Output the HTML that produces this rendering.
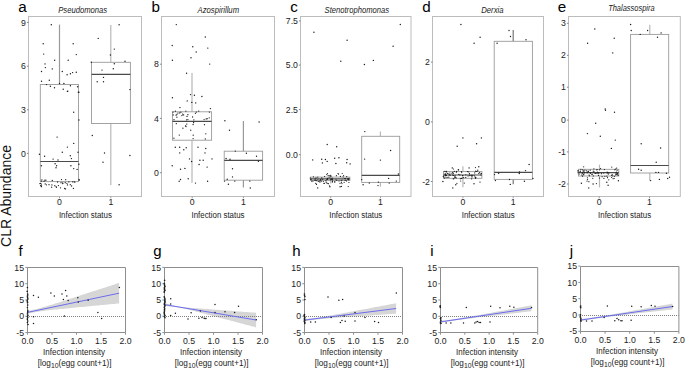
<!DOCTYPE html>
<html><head><meta charset="utf-8"><style>
html,body{margin:0;padding:0;background:#fff;}
body{width:685px;height:368px;overflow:hidden;}
svg{display:block;font-family:"Liberation Sans", sans-serif;}
text{fill:#222;}
</style></head><body>
<svg width="685" height="368" viewBox="0 0 685 368">
<rect width="685" height="368" fill="#fff"/>
<rect x="28.5" y="16.5" width="113.0" height="180.0" fill="none" stroke="#bcbcbc" stroke-width="1"/>
<text x="18.3" y="11.6" font-size="15.2" text-anchor="start"  style="fill:#000">a</text>
<text x="82.7" y="12.5" font-size="8.6" text-anchor="middle"  font-style="italic" textLength="49" lengthAdjust="spacingAndGlyphs">Pseudomonas</text>
<line x1="26.9" y1="22.4" x2="28.5" y2="22.4" stroke="#777" stroke-width="0.9"/>
<text x="25.9" y="25.5" font-size="8.7" text-anchor="end"  >9</text>
<line x1="26.9" y1="66.2" x2="28.5" y2="66.2" stroke="#777" stroke-width="0.9"/>
<text x="25.9" y="69.3" font-size="8.7" text-anchor="end"  >6</text>
<line x1="26.9" y1="109.8" x2="28.5" y2="109.8" stroke="#777" stroke-width="0.9"/>
<text x="25.9" y="112.9" font-size="8.7" text-anchor="end"  >3</text>
<line x1="26.9" y1="153.4" x2="28.5" y2="153.4" stroke="#777" stroke-width="0.9"/>
<text x="25.9" y="156.5" font-size="8.7" text-anchor="end"  >0</text>
<line x1="59.5" y1="196.5" x2="59.5" y2="198.3" stroke="#888" stroke-width="0.8"/>
<text x="59.5" y="205.0" font-size="8.7" text-anchor="middle"  >0</text>
<line x1="110.8" y1="196.5" x2="110.8" y2="198.3" stroke="#888" stroke-width="0.8"/>
<text x="110.8" y="205.0" font-size="8.7" text-anchor="middle"  >1</text>
<text x="85.4" y="218.0" font-size="8.4" text-anchor="middle"  textLength="53" lengthAdjust="spacingAndGlyphs">Infection status</text>
<rect x="161.5" y="16.5" width="113.0" height="180.0" fill="none" stroke="#bcbcbc" stroke-width="1"/>
<text x="151.6" y="11.6" font-size="15.2" text-anchor="start"  style="fill:#000">b</text>
<text x="218.3" y="12.6" font-size="8.6" text-anchor="middle"  font-style="italic" textLength="41.5" lengthAdjust="spacingAndGlyphs">Azospirillum</text>
<line x1="159.9" y1="64.2" x2="161.5" y2="64.2" stroke="#777" stroke-width="0.9"/>
<text x="158.9" y="67.3" font-size="8.7" text-anchor="end"  >8</text>
<line x1="159.9" y1="118.4" x2="161.5" y2="118.4" stroke="#777" stroke-width="0.9"/>
<text x="158.9" y="121.5" font-size="8.7" text-anchor="end"  >4</text>
<line x1="159.9" y1="172.7" x2="161.5" y2="172.7" stroke="#777" stroke-width="0.9"/>
<text x="158.9" y="175.8" font-size="8.7" text-anchor="end"  >0</text>
<line x1="192.2" y1="196.5" x2="192.2" y2="198.3" stroke="#888" stroke-width="0.8"/>
<text x="192.2" y="205.0" font-size="8.7" text-anchor="middle"  >0</text>
<line x1="243.4" y1="196.5" x2="243.4" y2="198.3" stroke="#888" stroke-width="0.8"/>
<text x="243.4" y="205.0" font-size="8.7" text-anchor="middle"  >1</text>
<text x="218.0" y="218.0" font-size="8.4" text-anchor="middle"  textLength="53" lengthAdjust="spacingAndGlyphs">Infection status</text>
<rect x="300.5" y="16.5" width="110.5" height="180.0" fill="none" stroke="#bcbcbc" stroke-width="1"/>
<text x="290.2" y="11.6" font-size="15.2" text-anchor="start"  style="fill:#000">c</text>
<text x="356.8" y="12.5" font-size="8.6" text-anchor="middle"  font-style="italic" textLength="64.5" lengthAdjust="spacingAndGlyphs">Stenotrophomonas</text>
<line x1="298.9" y1="20.9" x2="300.5" y2="20.9" stroke="#777" stroke-width="0.9"/>
<text x="297.9" y="24.0" font-size="8.7" text-anchor="end"  >7.5</text>
<line x1="298.9" y1="65.1" x2="300.5" y2="65.1" stroke="#777" stroke-width="0.9"/>
<text x="297.9" y="68.2" font-size="8.7" text-anchor="end"  >5.0</text>
<line x1="298.9" y1="109.6" x2="300.5" y2="109.6" stroke="#777" stroke-width="0.9"/>
<text x="297.9" y="112.7" font-size="8.7" text-anchor="end"  >2.5</text>
<line x1="298.9" y1="154.7" x2="300.5" y2="154.7" stroke="#777" stroke-width="0.9"/>
<text x="297.9" y="157.8" font-size="8.7" text-anchor="end"  >0.0</text>
<line x1="330.7" y1="196.5" x2="330.7" y2="198.3" stroke="#888" stroke-width="0.8"/>
<text x="330.7" y="205.0" font-size="8.7" text-anchor="middle"  >0</text>
<line x1="380.5" y1="196.5" x2="380.5" y2="198.3" stroke="#888" stroke-width="0.8"/>
<text x="380.5" y="205.0" font-size="8.7" text-anchor="middle"  >1</text>
<text x="355.8" y="218.0" font-size="8.4" text-anchor="middle"  textLength="53" lengthAdjust="spacingAndGlyphs">Infection status</text>
<rect x="432.5" y="16.5" width="111.0" height="180.0" fill="none" stroke="#bcbcbc" stroke-width="1"/>
<text x="422.3" y="11.6" font-size="15.2" text-anchor="start"  style="fill:#000">d</text>
<text x="492.4" y="12.9" font-size="8.6" text-anchor="middle"  font-style="italic" textLength="22.5" lengthAdjust="spacingAndGlyphs">Derxia</text>
<line x1="430.9" y1="62.1" x2="432.5" y2="62.1" stroke="#777" stroke-width="0.9"/>
<text x="429.9" y="65.2" font-size="8.7" text-anchor="end"  >2</text>
<line x1="430.9" y1="121.9" x2="432.5" y2="121.9" stroke="#777" stroke-width="0.9"/>
<text x="429.9" y="125.0" font-size="8.7" text-anchor="end"  >0</text>
<line x1="430.9" y1="181.5" x2="432.5" y2="181.5" stroke="#777" stroke-width="0.9"/>
<text x="429.9" y="184.6" font-size="8.7" text-anchor="end"  >-2</text>
<line x1="462.9" y1="196.5" x2="462.9" y2="198.3" stroke="#888" stroke-width="0.8"/>
<text x="462.9" y="205.0" font-size="8.7" text-anchor="middle"  >0</text>
<line x1="513.2" y1="196.5" x2="513.2" y2="198.3" stroke="#888" stroke-width="0.8"/>
<text x="513.2" y="205.0" font-size="8.7" text-anchor="middle"  >1</text>
<text x="488.2" y="218.0" font-size="8.4" text-anchor="middle"  textLength="53" lengthAdjust="spacingAndGlyphs">Infection status</text>
<rect x="568.5" y="16.5" width="111.8" height="180.0" fill="none" stroke="#bcbcbc" stroke-width="1"/>
<text x="557.7" y="11.6" font-size="15.2" text-anchor="start"  style="fill:#000">e</text>
<text x="631.4" y="10.5" font-size="8.6" text-anchor="middle"  font-style="italic" textLength="46.5" lengthAdjust="spacingAndGlyphs">Thalassospira</text>
<line x1="566.9" y1="23.3" x2="568.5" y2="23.3" stroke="#777" stroke-width="0.9"/>
<text x="565.9" y="26.4" font-size="8.7" text-anchor="end"  >3</text>
<line x1="566.9" y1="55.3" x2="568.5" y2="55.3" stroke="#777" stroke-width="0.9"/>
<text x="565.9" y="58.4" font-size="8.7" text-anchor="end"  >2</text>
<line x1="566.9" y1="87.2" x2="568.5" y2="87.2" stroke="#777" stroke-width="0.9"/>
<text x="565.9" y="90.3" font-size="8.7" text-anchor="end"  >1</text>
<line x1="566.9" y1="120.1" x2="568.5" y2="120.1" stroke="#777" stroke-width="0.9"/>
<text x="565.9" y="123.2" font-size="8.7" text-anchor="end"  >0</text>
<line x1="566.9" y1="151.9" x2="568.5" y2="151.9" stroke="#777" stroke-width="0.9"/>
<text x="565.9" y="155.0" font-size="8.7" text-anchor="end"  >-1</text>
<line x1="566.9" y1="184" x2="568.5" y2="184" stroke="#777" stroke-width="0.9"/>
<text x="565.9" y="187.1" font-size="8.7" text-anchor="end"  >-2</text>
<line x1="599.2" y1="196.5" x2="599.2" y2="198.3" stroke="#888" stroke-width="0.8"/>
<text x="599.2" y="205.0" font-size="8.7" text-anchor="middle"  >0</text>
<line x1="649.5" y1="196.5" x2="649.5" y2="198.3" stroke="#888" stroke-width="0.8"/>
<text x="649.5" y="205.0" font-size="8.7" text-anchor="middle"  >1</text>
<text x="624.6" y="218.0" font-size="8.4" text-anchor="middle"  textLength="53" lengthAdjust="spacingAndGlyphs">Infection status</text>
<line x1="59.5" y1="24.6" x2="59.5" y2="84.5" stroke="#999" stroke-width="1.2"/>
<rect x="40.3" y="84.5" width="38.2" height="97.1" fill="none" stroke="#9a9a9a" stroke-width="0.9"/>
<line x1="40.3" y1="161.5" x2="78.5" y2="161.5" stroke="#4a4a4a" stroke-width="1.2"/>
<line x1="110.8" y1="25.0" x2="110.8" y2="62.3" stroke="#b8b8b8" stroke-width="1.2"/>
<line x1="110.8" y1="123.5" x2="110.8" y2="185.0" stroke="#b8b8b8" stroke-width="1.2"/>
<rect x="91.5" y="62.3" width="38.9" height="61.2" fill="none" stroke="#9a9a9a" stroke-width="0.9"/>
<line x1="91.5" y1="74.3" x2="130.4" y2="74.3" stroke="#4a4a4a" stroke-width="1.2"/>
<circle cx="51.3" cy="24.8" r="0.7" fill="#1a1a1a"/>
<circle cx="43.2" cy="43.7" r="0.7" fill="#1a1a1a"/>
<circle cx="73.2" cy="43.7" r="0.7" fill="#1a1a1a"/>
<circle cx="43.7" cy="54.1" r="0.7" fill="#1a1a1a"/>
<circle cx="76.3" cy="54.6" r="0.7" fill="#1a1a1a"/>
<circle cx="45.0" cy="63.9" r="0.7" fill="#1a1a1a"/>
<circle cx="45.4" cy="67.6" r="0.7" fill="#1a1a1a"/>
<circle cx="54.7" cy="60.2" r="0.7" fill="#1a1a1a"/>
<circle cx="68.2" cy="60.2" r="0.7" fill="#1a1a1a"/>
<circle cx="52.3" cy="68.9" r="0.7" fill="#1a1a1a"/>
<circle cx="41.5" cy="71.5" r="0.7" fill="#1a1a1a"/>
<circle cx="62.3" cy="71.5" r="0.7" fill="#1a1a1a"/>
<circle cx="67.1" cy="74.8" r="0.7" fill="#1a1a1a"/>
<circle cx="70.4" cy="73.7" r="0.7" fill="#1a1a1a"/>
<circle cx="72.6" cy="72.6" r="0.7" fill="#1a1a1a"/>
<circle cx="76.3" cy="72.2" r="0.7" fill="#1a1a1a"/>
<circle cx="41.5" cy="81.3" r="0.7" fill="#1a1a1a"/>
<circle cx="49.3" cy="80.2" r="0.7" fill="#1a1a1a"/>
<circle cx="59.5" cy="83.5" r="0.7" fill="#1a1a1a"/>
<circle cx="63.9" cy="83.5" r="0.7" fill="#1a1a1a"/>
<circle cx="46.5" cy="84.6" r="0.7" fill="#1a1a1a"/>
<circle cx="50.4" cy="86.3" r="0.7" fill="#1a1a1a"/>
<circle cx="54.5" cy="87.8" r="0.7" fill="#1a1a1a"/>
<circle cx="63.2" cy="89.3" r="0.7" fill="#1a1a1a"/>
<circle cx="67.8" cy="91.1" r="0.7" fill="#1a1a1a"/>
<circle cx="70.4" cy="85.7" r="0.7" fill="#1a1a1a"/>
<circle cx="78.4" cy="92.2" r="0.7" fill="#1a1a1a"/>
<circle cx="77.6" cy="86.7" r="0.7" fill="#1a1a1a"/>
<circle cx="67.4" cy="91.4" r="0.7" fill="#1a1a1a"/>
<circle cx="78.9" cy="92.3" r="0.7" fill="#1a1a1a"/>
<circle cx="73.7" cy="112.3" r="0.7" fill="#1a1a1a"/>
<circle cx="78.9" cy="120.0" r="0.7" fill="#1a1a1a"/>
<circle cx="57.1" cy="137.1" r="0.7" fill="#1a1a1a"/>
<circle cx="73.7" cy="143.4" r="0.7" fill="#1a1a1a"/>
<circle cx="67.4" cy="147.1" r="0.7" fill="#1a1a1a"/>
<circle cx="62.3" cy="152.3" r="0.7" fill="#1a1a1a"/>
<circle cx="39.4" cy="154.3" r="0.7" fill="#1a1a1a"/>
<circle cx="44.6" cy="156.3" r="0.7" fill="#1a1a1a"/>
<circle cx="53.1" cy="159.1" r="0.7" fill="#1a1a1a"/>
<circle cx="58.0" cy="160.0" r="0.7" fill="#1a1a1a"/>
<circle cx="70.3" cy="155.7" r="0.7" fill="#1a1a1a"/>
<circle cx="71.4" cy="158.6" r="0.7" fill="#1a1a1a"/>
<circle cx="78.0" cy="152.3" r="0.7" fill="#1a1a1a"/>
<circle cx="55.1" cy="163.7" r="0.7" fill="#1a1a1a"/>
<circle cx="56.6" cy="165.7" r="0.7" fill="#1a1a1a"/>
<circle cx="56.0" cy="167.7" r="0.7" fill="#1a1a1a"/>
<circle cx="41.4" cy="165.7" r="0.7" fill="#1a1a1a"/>
<circle cx="70.9" cy="165.7" r="0.7" fill="#1a1a1a"/>
<circle cx="73.7" cy="168.6" r="0.7" fill="#1a1a1a"/>
<circle cx="77.1" cy="169.4" r="0.7" fill="#1a1a1a"/>
<circle cx="78.9" cy="164.3" r="0.7" fill="#1a1a1a"/>
<circle cx="52.3" cy="180.5" r="0.65" fill="#1a1a1a"/>
<circle cx="65.7" cy="179.7" r="0.65" fill="#1a1a1a"/>
<circle cx="61.0" cy="182.7" r="0.65" fill="#1a1a1a"/>
<circle cx="41.4" cy="184.1" r="0.65" fill="#1a1a1a"/>
<circle cx="40.5" cy="183.3" r="0.65" fill="#1a1a1a"/>
<circle cx="41.9" cy="179.9" r="0.65" fill="#1a1a1a"/>
<circle cx="56.4" cy="187.3" r="0.65" fill="#1a1a1a"/>
<circle cx="44.1" cy="181.2" r="0.65" fill="#1a1a1a"/>
<circle cx="64.7" cy="188.5" r="0.65" fill="#1a1a1a"/>
<circle cx="62.7" cy="183.0" r="0.65" fill="#1a1a1a"/>
<circle cx="79.0" cy="179.5" r="0.65" fill="#1a1a1a"/>
<circle cx="74.2" cy="181.9" r="0.65" fill="#1a1a1a"/>
<circle cx="44.9" cy="180.2" r="0.65" fill="#1a1a1a"/>
<circle cx="51.6" cy="187.2" r="0.65" fill="#1a1a1a"/>
<circle cx="46.4" cy="184.8" r="0.65" fill="#1a1a1a"/>
<circle cx="65.2" cy="182.7" r="0.65" fill="#1a1a1a"/>
<circle cx="61.5" cy="179.6" r="0.65" fill="#1a1a1a"/>
<circle cx="41.4" cy="181.1" r="0.65" fill="#1a1a1a"/>
<circle cx="66.9" cy="183.3" r="0.65" fill="#1a1a1a"/>
<circle cx="51.9" cy="184.9" r="0.65" fill="#1a1a1a"/>
<circle cx="57.6" cy="182.0" r="0.65" fill="#1a1a1a"/>
<circle cx="71.6" cy="186.0" r="0.65" fill="#1a1a1a"/>
<circle cx="49.0" cy="184.7" r="0.65" fill="#1a1a1a"/>
<circle cx="60.5" cy="187.8" r="0.65" fill="#1a1a1a"/>
<circle cx="68.9" cy="181.9" r="0.65" fill="#1a1a1a"/>
<circle cx="79.2" cy="180.2" r="0.65" fill="#1a1a1a"/>
<circle cx="56.1" cy="186.6" r="0.65" fill="#1a1a1a"/>
<circle cx="45.2" cy="183.9" r="0.65" fill="#1a1a1a"/>
<circle cx="40.6" cy="185.7" r="0.65" fill="#1a1a1a"/>
<circle cx="70.3" cy="184.7" r="0.65" fill="#1a1a1a"/>
<circle cx="74.9" cy="182.1" r="0.65" fill="#1a1a1a"/>
<circle cx="67.5" cy="184.9" r="0.65" fill="#1a1a1a"/>
<circle cx="62.8" cy="183.6" r="0.65" fill="#1a1a1a"/>
<circle cx="73.4" cy="188.4" r="0.65" fill="#1a1a1a"/>
<circle cx="58.4" cy="185.6" r="0.65" fill="#1a1a1a"/>
<circle cx="41.5" cy="186.0" r="0.65" fill="#1a1a1a"/>
<circle cx="65.5" cy="188.9" r="0.65" fill="#1a1a1a"/>
<circle cx="72.7" cy="181.8" r="0.65" fill="#1a1a1a"/>
<circle cx="54.8" cy="185.7" r="0.65" fill="#1a1a1a"/>
<circle cx="39.9" cy="183.6" r="0.65" fill="#1a1a1a"/>
<circle cx="45.9" cy="180.2" r="0.65" fill="#1a1a1a"/>
<circle cx="41.4" cy="186.7" r="0.65" fill="#1a1a1a"/>
<circle cx="119.1" cy="24.8" r="0.7" fill="#1a1a1a"/>
<circle cx="98.2" cy="38.4" r="0.7" fill="#1a1a1a"/>
<circle cx="114.3" cy="49.1" r="0.7" fill="#1a1a1a"/>
<circle cx="110.4" cy="55.0" r="0.7" fill="#1a1a1a"/>
<circle cx="125.0" cy="61.3" r="0.7" fill="#1a1a1a"/>
<circle cx="114.3" cy="63.8" r="0.7" fill="#1a1a1a"/>
<circle cx="91.3" cy="62.3" r="0.7" fill="#1a1a1a"/>
<circle cx="102.0" cy="70.1" r="0.7" fill="#1a1a1a"/>
<circle cx="113.3" cy="68.7" r="0.7" fill="#1a1a1a"/>
<circle cx="103.5" cy="77.4" r="0.7" fill="#1a1a1a"/>
<circle cx="97.2" cy="81.8" r="0.7" fill="#1a1a1a"/>
<circle cx="103.5" cy="81.8" r="0.7" fill="#1a1a1a"/>
<circle cx="129.9" cy="89.6" r="0.7" fill="#1a1a1a"/>
<circle cx="92.3" cy="135.5" r="0.7" fill="#1a1a1a"/>
<circle cx="104.5" cy="153.0" r="0.7" fill="#1a1a1a"/>
<circle cx="103.0" cy="162.3" r="0.7" fill="#1a1a1a"/>
<circle cx="129.9" cy="155.5" r="0.7" fill="#1a1a1a"/>
<circle cx="119.1" cy="184.8" r="0.7" fill="#1a1a1a"/>
<line x1="192.0" y1="73.0" x2="192.0" y2="111.8" stroke="#b8b8b8" stroke-width="1.2"/>
<line x1="192.0" y1="140.2" x2="192.0" y2="182.8" stroke="#b8b8b8" stroke-width="1.2"/>
<rect x="172.5" y="111.8" width="39.1" height="28.4" fill="none" stroke="#9a9a9a" stroke-width="0.9"/>
<line x1="172.5" y1="121.4" x2="211.6" y2="121.4" stroke="#4a4a4a" stroke-width="1.2"/>
<line x1="243.4" y1="121.0" x2="243.4" y2="151.2" stroke="#999" stroke-width="1.2"/>
<line x1="243.4" y1="180.2" x2="243.4" y2="187.5" stroke="#999" stroke-width="1.2"/>
<rect x="224.2" y="151.2" width="38.4" height="29.0" fill="none" stroke="#9a9a9a" stroke-width="0.9"/>
<line x1="224.2" y1="160.3" x2="262.6" y2="160.3" stroke="#4a4a4a" stroke-width="1.2"/>
<circle cx="176.3" cy="24.6" r="0.7" fill="#1a1a1a"/>
<circle cx="205.3" cy="37.0" r="0.7" fill="#1a1a1a"/>
<circle cx="172.2" cy="45.5" r="0.7" fill="#1a1a1a"/>
<circle cx="192.8" cy="46.8" r="0.7" fill="#1a1a1a"/>
<circle cx="207.8" cy="48.1" r="0.7" fill="#1a1a1a"/>
<circle cx="196.2" cy="52.0" r="0.7" fill="#1a1a1a"/>
<circle cx="172.4" cy="60.3" r="0.7" fill="#1a1a1a"/>
<circle cx="191.0" cy="57.7" r="0.7" fill="#1a1a1a"/>
<circle cx="209.7" cy="64.1" r="0.7" fill="#1a1a1a"/>
<circle cx="186.6" cy="73.2" r="0.7" fill="#1a1a1a"/>
<circle cx="172.4" cy="97.8" r="0.7" fill="#1a1a1a"/>
<circle cx="190.5" cy="94.6" r="0.7" fill="#1a1a1a"/>
<circle cx="194.4" cy="95.2" r="0.7" fill="#1a1a1a"/>
<circle cx="201.9" cy="96.5" r="0.7" fill="#1a1a1a"/>
<circle cx="187.2" cy="100.9" r="0.7" fill="#1a1a1a"/>
<circle cx="191.8" cy="102.4" r="0.7" fill="#1a1a1a"/>
<circle cx="195.7" cy="102.9" r="0.7" fill="#1a1a1a"/>
<circle cx="179.9" cy="107.6" r="0.7" fill="#1a1a1a"/>
<circle cx="210.4" cy="108.6" r="0.7" fill="#1a1a1a"/>
<circle cx="175.3" cy="147.3" r="0.7" fill="#1a1a1a"/>
<circle cx="179.7" cy="147.3" r="0.7" fill="#1a1a1a"/>
<circle cx="186.2" cy="147.8" r="0.7" fill="#1a1a1a"/>
<circle cx="198.0" cy="147.3" r="0.7" fill="#1a1a1a"/>
<circle cx="205.8" cy="148.5" r="0.7" fill="#1a1a1a"/>
<circle cx="179.7" cy="152.9" r="0.7" fill="#1a1a1a"/>
<circle cx="183.8" cy="149.8" r="0.7" fill="#1a1a1a"/>
<circle cx="205.0" cy="152.9" r="0.7" fill="#1a1a1a"/>
<circle cx="189.5" cy="158.9" r="0.7" fill="#1a1a1a"/>
<circle cx="212.0" cy="158.9" r="0.7" fill="#1a1a1a"/>
<circle cx="199.9" cy="160.2" r="0.7" fill="#1a1a1a"/>
<circle cx="203.2" cy="160.2" r="0.7" fill="#1a1a1a"/>
<circle cx="191.6" cy="161.5" r="0.7" fill="#1a1a1a"/>
<circle cx="199.1" cy="164.5" r="0.7" fill="#1a1a1a"/>
<circle cx="172.2" cy="165.8" r="0.7" fill="#1a1a1a"/>
<circle cx="180.5" cy="169.2" r="0.7" fill="#1a1a1a"/>
<circle cx="184.9" cy="168.4" r="0.7" fill="#1a1a1a"/>
<circle cx="207.1" cy="167.1" r="0.7" fill="#1a1a1a"/>
<circle cx="188.2" cy="178.8" r="0.7" fill="#1a1a1a"/>
<circle cx="180.5" cy="179.5" r="0.7" fill="#1a1a1a"/>
<circle cx="179.2" cy="181.3" r="0.7" fill="#1a1a1a"/>
<circle cx="195.5" cy="183.1" r="0.7" fill="#1a1a1a"/>
<circle cx="207.6" cy="181.3" r="0.7" fill="#1a1a1a"/>
<circle cx="177.9" cy="113.1" r="0.65" fill="#1a1a1a"/>
<circle cx="187.9" cy="119.6" r="0.65" fill="#1a1a1a"/>
<circle cx="176.1" cy="115.2" r="0.65" fill="#1a1a1a"/>
<circle cx="193.9" cy="119.8" r="0.65" fill="#1a1a1a"/>
<circle cx="204.1" cy="119.6" r="0.65" fill="#1a1a1a"/>
<circle cx="183.6" cy="114.9" r="0.65" fill="#1a1a1a"/>
<circle cx="186.6" cy="119.8" r="0.65" fill="#1a1a1a"/>
<circle cx="209.4" cy="112.1" r="0.65" fill="#1a1a1a"/>
<circle cx="179.7" cy="112.9" r="0.65" fill="#1a1a1a"/>
<circle cx="181.9" cy="115.6" r="0.65" fill="#1a1a1a"/>
<circle cx="195.4" cy="113.3" r="0.65" fill="#1a1a1a"/>
<circle cx="173.2" cy="114.9" r="0.65" fill="#1a1a1a"/>
<circle cx="187.0" cy="116.4" r="0.65" fill="#1a1a1a"/>
<circle cx="209.2" cy="117.8" r="0.65" fill="#1a1a1a"/>
<circle cx="192.6" cy="117.0" r="0.65" fill="#1a1a1a"/>
<circle cx="198.7" cy="111.1" r="0.65" fill="#1a1a1a"/>
<circle cx="207.2" cy="118.7" r="0.65" fill="#1a1a1a"/>
<circle cx="206.2" cy="118.9" r="0.65" fill="#1a1a1a"/>
<circle cx="187.9" cy="114.7" r="0.65" fill="#1a1a1a"/>
<circle cx="176.9" cy="117.2" r="0.65" fill="#1a1a1a"/>
<circle cx="175.4" cy="111.2" r="0.65" fill="#1a1a1a"/>
<circle cx="180.9" cy="112.2" r="0.65" fill="#1a1a1a"/>
<circle cx="185.9" cy="111.1" r="0.65" fill="#1a1a1a"/>
<circle cx="173.0" cy="112.1" r="0.65" fill="#1a1a1a"/>
<circle cx="176.9" cy="114.3" r="0.65" fill="#1a1a1a"/>
<circle cx="174.0" cy="119.7" r="0.65" fill="#1a1a1a"/>
<circle cx="196.3" cy="112.1" r="0.65" fill="#1a1a1a"/>
<circle cx="182.6" cy="114.1" r="0.65" fill="#1a1a1a"/>
<circle cx="186.8" cy="124.1" r="0.65" fill="#1a1a1a"/>
<circle cx="205.3" cy="138.9" r="0.65" fill="#1a1a1a"/>
<circle cx="190.7" cy="130.2" r="0.65" fill="#1a1a1a"/>
<circle cx="176.3" cy="123.7" r="0.65" fill="#1a1a1a"/>
<circle cx="186.0" cy="126.5" r="0.65" fill="#1a1a1a"/>
<circle cx="204.5" cy="124.7" r="0.65" fill="#1a1a1a"/>
<circle cx="173.9" cy="138.2" r="0.65" fill="#1a1a1a"/>
<circle cx="193.1" cy="124.5" r="0.65" fill="#1a1a1a"/>
<circle cx="193.6" cy="122.5" r="0.65" fill="#1a1a1a"/>
<circle cx="193.1" cy="138.6" r="0.65" fill="#1a1a1a"/>
<circle cx="205.8" cy="133.8" r="0.65" fill="#1a1a1a"/>
<circle cx="182.9" cy="128.2" r="0.65" fill="#1a1a1a"/>
<circle cx="179.3" cy="135.1" r="0.65" fill="#1a1a1a"/>
<circle cx="193.2" cy="135.2" r="0.65" fill="#1a1a1a"/>
<circle cx="185.5" cy="125.8" r="0.65" fill="#1a1a1a"/>
<circle cx="224.9" cy="120.8" r="0.7" fill="#1a1a1a"/>
<circle cx="259.1" cy="122.0" r="0.7" fill="#1a1a1a"/>
<circle cx="229.5" cy="130.3" r="0.7" fill="#1a1a1a"/>
<circle cx="235.3" cy="151.1" r="0.7" fill="#1a1a1a"/>
<circle cx="246.4" cy="153.2" r="0.7" fill="#1a1a1a"/>
<circle cx="256.5" cy="156.2" r="0.7" fill="#1a1a1a"/>
<circle cx="258.4" cy="161.2" r="0.7" fill="#1a1a1a"/>
<circle cx="226.1" cy="158.5" r="0.7" fill="#1a1a1a"/>
<circle cx="230.0" cy="159.2" r="0.7" fill="#1a1a1a"/>
<circle cx="232.5" cy="168.8" r="0.7" fill="#1a1a1a"/>
<circle cx="232.5" cy="176.9" r="0.7" fill="#1a1a1a"/>
<circle cx="227.2" cy="179.2" r="0.7" fill="#1a1a1a"/>
<circle cx="224.5" cy="181.1" r="0.7" fill="#1a1a1a"/>
<circle cx="234.8" cy="181.1" r="0.7" fill="#1a1a1a"/>
<circle cx="249.8" cy="181.1" r="0.7" fill="#1a1a1a"/>
<circle cx="228.4" cy="184.3" r="0.7" fill="#1a1a1a"/>
<circle cx="250.3" cy="188.0" r="0.7" fill="#1a1a1a"/>
<line x1="330.7" y1="174.5" x2="330.7" y2="177.1" stroke="#b8b8b8" stroke-width="1.2"/>
<line x1="330.7" y1="180.4" x2="330.7" y2="183.5" stroke="#b8b8b8" stroke-width="1.2"/>
<rect x="310.5" y="177.1" width="39.4" height="3.3" fill="none" stroke="#9a9a9a" stroke-width="0.9"/>
<line x1="310.5" y1="178.9" x2="349.9" y2="178.9" stroke="#4a4a4a" stroke-width="1.2"/>
<line x1="380.4" y1="131.6" x2="380.4" y2="136.3" stroke="#b8b8b8" stroke-width="1.2"/>
<line x1="380.4" y1="182.4" x2="380.4" y2="186.8" stroke="#b8b8b8" stroke-width="1.2"/>
<rect x="361.7" y="136.3" width="38.0" height="46.1" fill="none" stroke="#9a9a9a" stroke-width="0.9"/>
<line x1="361.7" y1="175.4" x2="399.7" y2="175.4" stroke="#4a4a4a" stroke-width="1.2"/>
<circle cx="313.9" cy="32.3" r="0.7" fill="#1a1a1a"/>
<circle cx="340.8" cy="61.2" r="0.7" fill="#1a1a1a"/>
<circle cx="347.1" cy="40.3" r="0.7" fill="#1a1a1a"/>
<circle cx="364.4" cy="64.5" r="0.7" fill="#1a1a1a"/>
<circle cx="373.4" cy="60.4" r="0.7" fill="#1a1a1a"/>
<circle cx="393.1" cy="46.3" r="0.7" fill="#1a1a1a"/>
<circle cx="400.3" cy="24.5" r="0.7" fill="#1a1a1a"/>
<circle cx="327.2" cy="144.5" r="0.7" fill="#1a1a1a"/>
<circle cx="336.7" cy="146.7" r="0.7" fill="#1a1a1a"/>
<circle cx="312.7" cy="159.9" r="0.7" fill="#1a1a1a"/>
<circle cx="321.7" cy="159.2" r="0.7" fill="#1a1a1a"/>
<circle cx="322.4" cy="162.9" r="0.7" fill="#1a1a1a"/>
<circle cx="325.4" cy="159.5" r="0.7" fill="#1a1a1a"/>
<circle cx="327.2" cy="161.4" r="0.7" fill="#1a1a1a"/>
<circle cx="334.7" cy="158.3" r="0.7" fill="#1a1a1a"/>
<circle cx="338.9" cy="157.7" r="0.7" fill="#1a1a1a"/>
<circle cx="335.9" cy="163.5" r="0.7" fill="#1a1a1a"/>
<circle cx="347.1" cy="159.5" r="0.7" fill="#1a1a1a"/>
<circle cx="346.7" cy="162.7" r="0.7" fill="#1a1a1a"/>
<circle cx="350.1" cy="163.9" r="0.7" fill="#1a1a1a"/>
<circle cx="317.7" cy="187.9" r="0.7" fill="#1a1a1a"/>
<circle cx="329.9" cy="186.7" r="0.7" fill="#1a1a1a"/>
<circle cx="340.1" cy="186.7" r="0.7" fill="#1a1a1a"/>
<circle cx="344.1" cy="182.3" r="0.6" fill="#1a1a1a"/>
<circle cx="342.2" cy="173.5" r="0.6" fill="#1a1a1a"/>
<circle cx="319.1" cy="181.3" r="0.6" fill="#1a1a1a"/>
<circle cx="330.7" cy="175.6" r="0.6" fill="#1a1a1a"/>
<circle cx="311.1" cy="179.1" r="0.6" fill="#1a1a1a"/>
<circle cx="321.2" cy="180.0" r="0.6" fill="#1a1a1a"/>
<circle cx="348.3" cy="179.3" r="0.6" fill="#1a1a1a"/>
<circle cx="327.9" cy="183.5" r="0.6" fill="#1a1a1a"/>
<circle cx="348.2" cy="186.6" r="0.6" fill="#1a1a1a"/>
<circle cx="324.6" cy="176.5" r="0.6" fill="#1a1a1a"/>
<circle cx="317.9" cy="179.8" r="0.6" fill="#1a1a1a"/>
<circle cx="318.2" cy="181.3" r="0.6" fill="#1a1a1a"/>
<circle cx="343.6" cy="175.5" r="0.6" fill="#1a1a1a"/>
<circle cx="329.2" cy="175.6" r="0.6" fill="#1a1a1a"/>
<circle cx="313.4" cy="176.8" r="0.6" fill="#1a1a1a"/>
<circle cx="336.4" cy="175.7" r="0.6" fill="#1a1a1a"/>
<circle cx="340.0" cy="183.3" r="0.6" fill="#1a1a1a"/>
<circle cx="329.1" cy="177.1" r="0.6" fill="#1a1a1a"/>
<circle cx="323.3" cy="181.5" r="0.6" fill="#1a1a1a"/>
<circle cx="342.0" cy="183.6" r="0.6" fill="#1a1a1a"/>
<circle cx="326.1" cy="182.1" r="0.6" fill="#1a1a1a"/>
<circle cx="347.9" cy="179.0" r="0.6" fill="#1a1a1a"/>
<circle cx="315.1" cy="179.2" r="0.6" fill="#1a1a1a"/>
<circle cx="316.0" cy="177.9" r="0.6" fill="#1a1a1a"/>
<circle cx="315.8" cy="183.4" r="0.6" fill="#1a1a1a"/>
<circle cx="343.1" cy="176.8" r="0.6" fill="#1a1a1a"/>
<circle cx="324.0" cy="183.3" r="0.6" fill="#1a1a1a"/>
<circle cx="331.9" cy="179.0" r="0.6" fill="#1a1a1a"/>
<circle cx="348.8" cy="179.8" r="0.6" fill="#1a1a1a"/>
<circle cx="336.0" cy="179.8" r="0.6" fill="#1a1a1a"/>
<circle cx="327.4" cy="173.5" r="0.6" fill="#1a1a1a"/>
<circle cx="344.9" cy="178.5" r="0.6" fill="#1a1a1a"/>
<circle cx="320.1" cy="180.3" r="0.6" fill="#1a1a1a"/>
<circle cx="321.7" cy="177.9" r="0.6" fill="#1a1a1a"/>
<circle cx="320.4" cy="179.7" r="0.6" fill="#1a1a1a"/>
<circle cx="326.8" cy="182.9" r="0.6" fill="#1a1a1a"/>
<circle cx="324.2" cy="183.4" r="0.6" fill="#1a1a1a"/>
<circle cx="328.3" cy="183.7" r="0.6" fill="#1a1a1a"/>
<circle cx="326.8" cy="174.6" r="0.6" fill="#1a1a1a"/>
<circle cx="346.7" cy="176.7" r="0.6" fill="#1a1a1a"/>
<circle cx="330.9" cy="176.3" r="0.6" fill="#1a1a1a"/>
<circle cx="310.7" cy="179.5" r="0.6" fill="#1a1a1a"/>
<circle cx="310.2" cy="178.0" r="0.6" fill="#1a1a1a"/>
<circle cx="342.0" cy="180.1" r="0.6" fill="#1a1a1a"/>
<circle cx="339.0" cy="180.9" r="0.6" fill="#1a1a1a"/>
<circle cx="332.3" cy="182.1" r="0.6" fill="#1a1a1a"/>
<circle cx="332.2" cy="178.1" r="0.6" fill="#1a1a1a"/>
<circle cx="341.4" cy="182.3" r="0.6" fill="#1a1a1a"/>
<circle cx="319.9" cy="182.1" r="0.6" fill="#1a1a1a"/>
<circle cx="321.1" cy="181.6" r="0.6" fill="#1a1a1a"/>
<circle cx="332.5" cy="179.9" r="0.6" fill="#1a1a1a"/>
<circle cx="340.4" cy="176.4" r="0.6" fill="#1a1a1a"/>
<circle cx="334.5" cy="181.9" r="0.6" fill="#1a1a1a"/>
<circle cx="330.2" cy="178.0" r="0.6" fill="#1a1a1a"/>
<circle cx="328.1" cy="175.5" r="0.6" fill="#1a1a1a"/>
<circle cx="331.3" cy="179.2" r="0.6" fill="#1a1a1a"/>
<circle cx="338.0" cy="173.5" r="0.6" fill="#1a1a1a"/>
<circle cx="345.1" cy="180.4" r="0.6" fill="#1a1a1a"/>
<circle cx="332.4" cy="181.4" r="0.6" fill="#1a1a1a"/>
<circle cx="347.7" cy="178.8" r="0.6" fill="#1a1a1a"/>
<circle cx="314.9" cy="180.3" r="0.6" fill="#1a1a1a"/>
<circle cx="327.7" cy="178.3" r="0.6" fill="#1a1a1a"/>
<circle cx="312.9" cy="181.2" r="0.6" fill="#1a1a1a"/>
<circle cx="336.8" cy="180.3" r="0.6" fill="#1a1a1a"/>
<circle cx="316.2" cy="180.7" r="0.6" fill="#1a1a1a"/>
<circle cx="338.6" cy="174.1" r="0.6" fill="#1a1a1a"/>
<circle cx="345.3" cy="178.7" r="0.6" fill="#1a1a1a"/>
<circle cx="348.7" cy="178.3" r="0.6" fill="#1a1a1a"/>
<circle cx="325.9" cy="180.7" r="0.6" fill="#1a1a1a"/>
<circle cx="329.5" cy="185.8" r="0.6" fill="#1a1a1a"/>
<circle cx="316.5" cy="184.4" r="0.6" fill="#1a1a1a"/>
<circle cx="327.3" cy="179.2" r="0.6" fill="#1a1a1a"/>
<circle cx="317.8" cy="177.1" r="0.6" fill="#1a1a1a"/>
<circle cx="322.7" cy="179.3" r="0.6" fill="#1a1a1a"/>
<circle cx="332.2" cy="179.4" r="0.6" fill="#1a1a1a"/>
<circle cx="327.6" cy="179.0" r="0.6" fill="#1a1a1a"/>
<circle cx="335.0" cy="181.8" r="0.6" fill="#1a1a1a"/>
<circle cx="330.5" cy="179.8" r="0.6" fill="#1a1a1a"/>
<circle cx="341.5" cy="186.4" r="0.6" fill="#1a1a1a"/>
<circle cx="348.9" cy="182.5" r="0.6" fill="#1a1a1a"/>
<circle cx="311.6" cy="181.1" r="0.6" fill="#1a1a1a"/>
<circle cx="341.2" cy="180.7" r="0.6" fill="#1a1a1a"/>
<circle cx="326.9" cy="179.3" r="0.6" fill="#1a1a1a"/>
<circle cx="346.5" cy="180.9" r="0.6" fill="#1a1a1a"/>
<circle cx="316.0" cy="180.3" r="0.6" fill="#1a1a1a"/>
<circle cx="364.8" cy="131.6" r="0.7" fill="#1a1a1a"/>
<circle cx="390.6" cy="150.5" r="0.7" fill="#1a1a1a"/>
<circle cx="364.6" cy="159.1" r="0.7" fill="#1a1a1a"/>
<circle cx="380.4" cy="160.1" r="0.7" fill="#1a1a1a"/>
<circle cx="398.4" cy="174.0" r="0.7" fill="#1a1a1a"/>
<circle cx="388.6" cy="178.4" r="0.7" fill="#1a1a1a"/>
<circle cx="361.7" cy="179.6" r="0.7" fill="#1a1a1a"/>
<circle cx="396.3" cy="181.1" r="0.7" fill="#1a1a1a"/>
<circle cx="363.1" cy="184.7" r="0.7" fill="#1a1a1a"/>
<circle cx="369.3" cy="183.1" r="0.7" fill="#1a1a1a"/>
<circle cx="378.4" cy="182.1" r="0.7" fill="#1a1a1a"/>
<circle cx="389.2" cy="183.1" r="0.7" fill="#1a1a1a"/>
<circle cx="378.0" cy="185.6" r="0.7" fill="#1a1a1a"/>
<line x1="462.9" y1="166.2" x2="462.9" y2="171.6" stroke="#b8b8b8" stroke-width="1.2"/>
<line x1="462.9" y1="178.3" x2="462.9" y2="187.3" stroke="#b8b8b8" stroke-width="1.2"/>
<rect x="443.5" y="171.6" width="38.4" height="6.7" fill="none" stroke="#9a9a9a" stroke-width="0.9"/>
<line x1="443.5" y1="175.0" x2="481.9" y2="175.0" stroke="#4a4a4a" stroke-width="1.2"/>
<line x1="513.2" y1="29.9" x2="513.2" y2="41.3" stroke="#777" stroke-width="1.2"/>
<line x1="513.2" y1="179.4" x2="513.2" y2="184.2" stroke="#777" stroke-width="1.2"/>
<rect x="494.2" y="41.3" width="38.2" height="138.1" fill="none" stroke="#9a9a9a" stroke-width="0.9"/>
<line x1="494.2" y1="172.3" x2="532.4" y2="172.3" stroke="#4a4a4a" stroke-width="1.2"/>
<circle cx="460.9" cy="24.5" r="0.7" fill="#1a1a1a"/>
<circle cx="480.1" cy="37.3" r="0.7" fill="#1a1a1a"/>
<circle cx="474.1" cy="43.3" r="0.7" fill="#1a1a1a"/>
<circle cx="509.0" cy="30.5" r="0.7" fill="#1a1a1a"/>
<circle cx="510.5" cy="36.5" r="0.7" fill="#1a1a1a"/>
<circle cx="526.0" cy="39.7" r="0.7" fill="#1a1a1a"/>
<circle cx="497.1" cy="43.3" r="0.7" fill="#1a1a1a"/>
<circle cx="462.9" cy="137.9" r="0.7" fill="#1a1a1a"/>
<circle cx="481.4" cy="137.9" r="0.7" fill="#1a1a1a"/>
<circle cx="457.2" cy="146.2" r="0.7" fill="#1a1a1a"/>
<circle cx="476.6" cy="143.8" r="0.7" fill="#1a1a1a"/>
<circle cx="478.8" cy="166.7" r="0.7" fill="#1a1a1a"/>
<circle cx="469.1" cy="167.9" r="0.7" fill="#1a1a1a"/>
<circle cx="452.3" cy="167.9" r="0.7" fill="#1a1a1a"/>
<circle cx="458.5" cy="169.7" r="0.7" fill="#1a1a1a"/>
<circle cx="452.8" cy="187.9" r="0.7" fill="#1a1a1a"/>
<circle cx="455.8" cy="184.7" r="0.7" fill="#1a1a1a"/>
<circle cx="474.0" cy="183.8" r="0.7" fill="#1a1a1a"/>
<circle cx="442.9" cy="181.5" r="0.7" fill="#1a1a1a"/>
<circle cx="480.0" cy="182.1" r="0.7" fill="#1a1a1a"/>
<circle cx="529.1" cy="164.5" r="0.7" fill="#1a1a1a"/>
<circle cx="525.5" cy="170.6" r="0.7" fill="#1a1a1a"/>
<circle cx="519.5" cy="171.9" r="0.7" fill="#1a1a1a"/>
<circle cx="519.3" cy="173.5" r="0.7" fill="#1a1a1a"/>
<circle cx="498.6" cy="173.3" r="0.7" fill="#1a1a1a"/>
<circle cx="494.5" cy="174.6" r="0.7" fill="#1a1a1a"/>
<circle cx="495.4" cy="180.6" r="0.7" fill="#1a1a1a"/>
<circle cx="509.5" cy="179.5" r="0.7" fill="#1a1a1a"/>
<circle cx="510.3" cy="184.4" r="0.7" fill="#1a1a1a"/>
<circle cx="524.4" cy="181.3" r="0.7" fill="#1a1a1a"/>
<circle cx="532.9" cy="178.4" r="0.7" fill="#1a1a1a"/>
<circle cx="478.8" cy="173.4" r="0.6" fill="#1a1a1a"/>
<circle cx="446.5" cy="171.3" r="0.6" fill="#1a1a1a"/>
<circle cx="445.2" cy="173.5" r="0.6" fill="#1a1a1a"/>
<circle cx="445.8" cy="174.3" r="0.6" fill="#1a1a1a"/>
<circle cx="479.6" cy="172.6" r="0.6" fill="#1a1a1a"/>
<circle cx="446.3" cy="171.9" r="0.6" fill="#1a1a1a"/>
<circle cx="476.4" cy="171.5" r="0.6" fill="#1a1a1a"/>
<circle cx="460.7" cy="181.0" r="0.6" fill="#1a1a1a"/>
<circle cx="456.2" cy="177.9" r="0.6" fill="#1a1a1a"/>
<circle cx="453.4" cy="169.0" r="0.6" fill="#1a1a1a"/>
<circle cx="448.0" cy="173.3" r="0.6" fill="#1a1a1a"/>
<circle cx="447.3" cy="173.3" r="0.6" fill="#1a1a1a"/>
<circle cx="449.3" cy="175.1" r="0.6" fill="#1a1a1a"/>
<circle cx="455.2" cy="177.4" r="0.6" fill="#1a1a1a"/>
<circle cx="454.9" cy="176.1" r="0.6" fill="#1a1a1a"/>
<circle cx="462.5" cy="175.6" r="0.6" fill="#1a1a1a"/>
<circle cx="449.9" cy="173.0" r="0.6" fill="#1a1a1a"/>
<circle cx="452.8" cy="175.2" r="0.6" fill="#1a1a1a"/>
<circle cx="443.6" cy="176.0" r="0.6" fill="#1a1a1a"/>
<circle cx="450.4" cy="175.1" r="0.6" fill="#1a1a1a"/>
<circle cx="461.5" cy="171.7" r="0.6" fill="#1a1a1a"/>
<circle cx="474.9" cy="176.8" r="0.6" fill="#1a1a1a"/>
<circle cx="459.9" cy="174.9" r="0.6" fill="#1a1a1a"/>
<circle cx="458.3" cy="169.8" r="0.6" fill="#1a1a1a"/>
<circle cx="462.8" cy="175.7" r="0.6" fill="#1a1a1a"/>
<circle cx="456.4" cy="172.2" r="0.6" fill="#1a1a1a"/>
<circle cx="475.5" cy="167.6" r="0.6" fill="#1a1a1a"/>
<circle cx="458.8" cy="174.4" r="0.6" fill="#1a1a1a"/>
<circle cx="456.6" cy="171.4" r="0.6" fill="#1a1a1a"/>
<circle cx="445.8" cy="177.0" r="0.6" fill="#1a1a1a"/>
<circle cx="471.9" cy="176.0" r="0.6" fill="#1a1a1a"/>
<circle cx="446.3" cy="175.4" r="0.6" fill="#1a1a1a"/>
<circle cx="475.8" cy="177.3" r="0.6" fill="#1a1a1a"/>
<circle cx="454.0" cy="178.6" r="0.6" fill="#1a1a1a"/>
<circle cx="452.4" cy="172.3" r="0.6" fill="#1a1a1a"/>
<circle cx="449.1" cy="174.6" r="0.6" fill="#1a1a1a"/>
<circle cx="460.4" cy="178.7" r="0.6" fill="#1a1a1a"/>
<circle cx="480.9" cy="174.9" r="0.6" fill="#1a1a1a"/>
<circle cx="464.3" cy="183.1" r="0.6" fill="#1a1a1a"/>
<circle cx="455.1" cy="175.8" r="0.6" fill="#1a1a1a"/>
<circle cx="456.9" cy="183.3" r="0.6" fill="#1a1a1a"/>
<circle cx="461.5" cy="178.4" r="0.6" fill="#1a1a1a"/>
<circle cx="462.6" cy="175.5" r="0.6" fill="#1a1a1a"/>
<circle cx="443.2" cy="176.6" r="0.6" fill="#1a1a1a"/>
<circle cx="453.3" cy="178.9" r="0.6" fill="#1a1a1a"/>
<circle cx="444.6" cy="178.1" r="0.6" fill="#1a1a1a"/>
<circle cx="443.9" cy="177.1" r="0.6" fill="#1a1a1a"/>
<circle cx="465.8" cy="174.8" r="0.6" fill="#1a1a1a"/>
<circle cx="463.6" cy="177.6" r="0.6" fill="#1a1a1a"/>
<circle cx="470.9" cy="175.5" r="0.6" fill="#1a1a1a"/>
<circle cx="477.3" cy="171.1" r="0.6" fill="#1a1a1a"/>
<circle cx="481.4" cy="173.5" r="0.6" fill="#1a1a1a"/>
<circle cx="448.8" cy="177.2" r="0.6" fill="#1a1a1a"/>
<circle cx="444.7" cy="174.8" r="0.6" fill="#1a1a1a"/>
<circle cx="475.6" cy="171.2" r="0.6" fill="#1a1a1a"/>
<circle cx="471.6" cy="178.8" r="0.6" fill="#1a1a1a"/>
<circle cx="474.7" cy="172.9" r="0.6" fill="#1a1a1a"/>
<circle cx="462.7" cy="177.8" r="0.6" fill="#1a1a1a"/>
<circle cx="475.6" cy="178.3" r="0.6" fill="#1a1a1a"/>
<circle cx="465.8" cy="177.4" r="0.6" fill="#1a1a1a"/>
<circle cx="477.8" cy="170.2" r="0.6" fill="#1a1a1a"/>
<circle cx="452.0" cy="173.6" r="0.6" fill="#1a1a1a"/>
<circle cx="444.2" cy="171.3" r="0.6" fill="#1a1a1a"/>
<circle cx="447.1" cy="177.4" r="0.6" fill="#1a1a1a"/>
<circle cx="475.6" cy="177.6" r="0.6" fill="#1a1a1a"/>
<circle cx="467.4" cy="171.6" r="0.6" fill="#1a1a1a"/>
<circle cx="469.5" cy="174.0" r="0.6" fill="#1a1a1a"/>
<circle cx="474.1" cy="175.3" r="0.6" fill="#1a1a1a"/>
<circle cx="472.2" cy="175.5" r="0.6" fill="#1a1a1a"/>
<circle cx="468.7" cy="171.8" r="0.6" fill="#1a1a1a"/>
<circle cx="445.6" cy="175.4" r="0.6" fill="#1a1a1a"/>
<circle cx="445.9" cy="175.3" r="0.6" fill="#1a1a1a"/>
<circle cx="453.4" cy="173.2" r="0.6" fill="#1a1a1a"/>
<circle cx="471.9" cy="175.2" r="0.6" fill="#1a1a1a"/>
<circle cx="481.1" cy="173.5" r="0.6" fill="#1a1a1a"/>
<circle cx="461.7" cy="172.6" r="0.6" fill="#1a1a1a"/>
<circle cx="469.7" cy="175.6" r="0.6" fill="#1a1a1a"/>
<circle cx="468.1" cy="175.9" r="0.6" fill="#1a1a1a"/>
<circle cx="446.0" cy="171.4" r="0.6" fill="#1a1a1a"/>
<circle cx="472.0" cy="176.9" r="0.6" fill="#1a1a1a"/>
<circle cx="454.9" cy="177.3" r="0.6" fill="#1a1a1a"/>
<circle cx="445.4" cy="175.1" r="0.6" fill="#1a1a1a"/>
<circle cx="453.5" cy="175.3" r="0.6" fill="#1a1a1a"/>
<circle cx="469.4" cy="173.3" r="0.6" fill="#1a1a1a"/>
<circle cx="454.3" cy="171.4" r="0.6" fill="#1a1a1a"/>
<line x1="599.5" y1="164.6" x2="599.5" y2="169.3" stroke="#b8b8b8" stroke-width="1.2"/>
<line x1="599.5" y1="176.0" x2="599.5" y2="187.4" stroke="#b8b8b8" stroke-width="1.2"/>
<rect x="578.4" y="169.3" width="40.4" height="6.7" fill="none" stroke="#9a9a9a" stroke-width="0.9"/>
<line x1="578.4" y1="172.6" x2="618.8" y2="172.6" stroke="#4a4a4a" stroke-width="1.2"/>
<line x1="649.8" y1="24.8" x2="649.8" y2="34.4" stroke="#b8b8b8" stroke-width="1.2"/>
<line x1="649.8" y1="173.0" x2="649.8" y2="180.7" stroke="#b8b8b8" stroke-width="1.2"/>
<rect x="630.6" y="34.4" width="38.1" height="138.6" fill="none" stroke="#9a9a9a" stroke-width="0.9"/>
<line x1="630.6" y1="165.5" x2="668.7" y2="165.5" stroke="#4a4a4a" stroke-width="1.2"/>
<circle cx="594.8" cy="29.0" r="0.7" fill="#1a1a1a"/>
<circle cx="587.6" cy="43.3" r="0.7" fill="#1a1a1a"/>
<circle cx="614.2" cy="38.2" r="0.7" fill="#1a1a1a"/>
<circle cx="612.7" cy="52.9" r="0.7" fill="#1a1a1a"/>
<circle cx="630.6" cy="24.5" r="0.7" fill="#1a1a1a"/>
<circle cx="631.2" cy="30.5" r="0.7" fill="#1a1a1a"/>
<circle cx="640.2" cy="34.4" r="0.7" fill="#1a1a1a"/>
<circle cx="647.6" cy="30.5" r="0.7" fill="#1a1a1a"/>
<circle cx="657.5" cy="37.3" r="0.7" fill="#1a1a1a"/>
<circle cx="661.1" cy="32.9" r="0.7" fill="#1a1a1a"/>
<circle cx="605.2" cy="109.0" r="0.7" fill="#1a1a1a"/>
<circle cx="605.5" cy="110.3" r="0.7" fill="#1a1a1a"/>
<circle cx="614.5" cy="112.2" r="0.7" fill="#1a1a1a"/>
<circle cx="595.7" cy="123.3" r="0.7" fill="#1a1a1a"/>
<circle cx="587.4" cy="133.6" r="0.7" fill="#1a1a1a"/>
<circle cx="600.3" cy="136.2" r="0.7" fill="#1a1a1a"/>
<circle cx="615.3" cy="140.1" r="0.7" fill="#1a1a1a"/>
<circle cx="611.4" cy="148.4" r="0.7" fill="#1a1a1a"/>
<circle cx="581.4" cy="183.3" r="0.7" fill="#1a1a1a"/>
<circle cx="588.7" cy="187.9" r="0.7" fill="#1a1a1a"/>
<circle cx="593.1" cy="184.0" r="0.7" fill="#1a1a1a"/>
<circle cx="606.8" cy="182.2" r="0.7" fill="#1a1a1a"/>
<circle cx="608.1" cy="185.3" r="0.7" fill="#1a1a1a"/>
<circle cx="618.4" cy="180.7" r="0.7" fill="#1a1a1a"/>
<circle cx="641.2" cy="143.8" r="0.7" fill="#1a1a1a"/>
<circle cx="660.6" cy="148.0" r="0.7" fill="#1a1a1a"/>
<circle cx="656.2" cy="162.3" r="0.7" fill="#1a1a1a"/>
<circle cx="638.6" cy="169.2" r="0.7" fill="#1a1a1a"/>
<circle cx="641.2" cy="170.2" r="0.7" fill="#1a1a1a"/>
<circle cx="655.9" cy="172.4" r="0.7" fill="#1a1a1a"/>
<circle cx="658.5" cy="172.4" r="0.7" fill="#1a1a1a"/>
<circle cx="666.5" cy="173.2" r="0.7" fill="#1a1a1a"/>
<circle cx="650.6" cy="180.6" r="0.7" fill="#1a1a1a"/>
<circle cx="659.4" cy="179.4" r="0.7" fill="#1a1a1a"/>
<circle cx="667.7" cy="178.5" r="0.7" fill="#1a1a1a"/>
<circle cx="669.5" cy="177.3" r="0.7" fill="#1a1a1a"/>
<circle cx="597.1" cy="169.5" r="0.6" fill="#1a1a1a"/>
<circle cx="582.9" cy="173.1" r="0.6" fill="#1a1a1a"/>
<circle cx="618.1" cy="175.4" r="0.6" fill="#1a1a1a"/>
<circle cx="616.4" cy="172.0" r="0.6" fill="#1a1a1a"/>
<circle cx="611.6" cy="177.5" r="0.6" fill="#1a1a1a"/>
<circle cx="617.7" cy="173.9" r="0.6" fill="#1a1a1a"/>
<circle cx="586.6" cy="170.8" r="0.6" fill="#1a1a1a"/>
<circle cx="616.8" cy="174.4" r="0.6" fill="#1a1a1a"/>
<circle cx="583.8" cy="174.7" r="0.6" fill="#1a1a1a"/>
<circle cx="599.5" cy="178.1" r="0.6" fill="#1a1a1a"/>
<circle cx="611.6" cy="175.3" r="0.6" fill="#1a1a1a"/>
<circle cx="598.9" cy="172.9" r="0.6" fill="#1a1a1a"/>
<circle cx="587.5" cy="177.8" r="0.6" fill="#1a1a1a"/>
<circle cx="614.8" cy="169.8" r="0.6" fill="#1a1a1a"/>
<circle cx="578.1" cy="172.7" r="0.6" fill="#1a1a1a"/>
<circle cx="598.2" cy="173.6" r="0.6" fill="#1a1a1a"/>
<circle cx="583.8" cy="170.6" r="0.6" fill="#1a1a1a"/>
<circle cx="592.1" cy="174.4" r="0.6" fill="#1a1a1a"/>
<circle cx="578.1" cy="170.7" r="0.6" fill="#1a1a1a"/>
<circle cx="608.8" cy="179.8" r="0.6" fill="#1a1a1a"/>
<circle cx="616.0" cy="174.5" r="0.6" fill="#1a1a1a"/>
<circle cx="607.2" cy="172.0" r="0.6" fill="#1a1a1a"/>
<circle cx="593.3" cy="175.9" r="0.6" fill="#1a1a1a"/>
<circle cx="594.1" cy="171.8" r="0.6" fill="#1a1a1a"/>
<circle cx="592.8" cy="178.3" r="0.6" fill="#1a1a1a"/>
<circle cx="595.6" cy="173.5" r="0.6" fill="#1a1a1a"/>
<circle cx="582.2" cy="173.3" r="0.6" fill="#1a1a1a"/>
<circle cx="612.2" cy="174.6" r="0.6" fill="#1a1a1a"/>
<circle cx="588.2" cy="171.6" r="0.6" fill="#1a1a1a"/>
<circle cx="588.9" cy="181.7" r="0.6" fill="#1a1a1a"/>
<circle cx="593.3" cy="171.2" r="0.6" fill="#1a1a1a"/>
<circle cx="617.2" cy="173.3" r="0.6" fill="#1a1a1a"/>
<circle cx="603.9" cy="178.4" r="0.6" fill="#1a1a1a"/>
<circle cx="615.5" cy="169.1" r="0.6" fill="#1a1a1a"/>
<circle cx="607.5" cy="177.7" r="0.6" fill="#1a1a1a"/>
<circle cx="580.0" cy="171.8" r="0.6" fill="#1a1a1a"/>
<circle cx="608.9" cy="173.1" r="0.6" fill="#1a1a1a"/>
<circle cx="604.4" cy="169.6" r="0.6" fill="#1a1a1a"/>
<circle cx="616.0" cy="173.2" r="0.6" fill="#1a1a1a"/>
<circle cx="583.2" cy="174.6" r="0.6" fill="#1a1a1a"/>
<circle cx="590.2" cy="170.2" r="0.6" fill="#1a1a1a"/>
<circle cx="608.3" cy="174.1" r="0.6" fill="#1a1a1a"/>
<circle cx="604.9" cy="176.3" r="0.6" fill="#1a1a1a"/>
<circle cx="590.3" cy="173.1" r="0.6" fill="#1a1a1a"/>
<circle cx="584.9" cy="170.1" r="0.6" fill="#1a1a1a"/>
<circle cx="584.6" cy="172.2" r="0.6" fill="#1a1a1a"/>
<circle cx="598.4" cy="175.5" r="0.6" fill="#1a1a1a"/>
<circle cx="587.0" cy="181.1" r="0.6" fill="#1a1a1a"/>
<circle cx="596.4" cy="183.6" r="0.6" fill="#1a1a1a"/>
<circle cx="583.7" cy="166.8" r="0.6" fill="#1a1a1a"/>
<circle cx="592.0" cy="174.1" r="0.6" fill="#1a1a1a"/>
<circle cx="581.7" cy="175.0" r="0.6" fill="#1a1a1a"/>
<circle cx="601.4" cy="173.7" r="0.6" fill="#1a1a1a"/>
<circle cx="614.4" cy="176.3" r="0.6" fill="#1a1a1a"/>
<circle cx="595.0" cy="173.5" r="0.6" fill="#1a1a1a"/>
<circle cx="599.5" cy="169.8" r="0.6" fill="#1a1a1a"/>
<circle cx="580.5" cy="171.2" r="0.6" fill="#1a1a1a"/>
<circle cx="589.4" cy="175.8" r="0.6" fill="#1a1a1a"/>
<circle cx="598.6" cy="175.3" r="0.6" fill="#1a1a1a"/>
<circle cx="603.8" cy="173.1" r="0.6" fill="#1a1a1a"/>
<circle cx="589.1" cy="175.1" r="0.6" fill="#1a1a1a"/>
<circle cx="588.2" cy="171.6" r="0.6" fill="#1a1a1a"/>
<circle cx="617.1" cy="170.3" r="0.6" fill="#1a1a1a"/>
<circle cx="612.8" cy="175.8" r="0.6" fill="#1a1a1a"/>
<circle cx="579.3" cy="174.0" r="0.6" fill="#1a1a1a"/>
<circle cx="607.1" cy="173.0" r="0.6" fill="#1a1a1a"/>
<circle cx="602.1" cy="176.7" r="0.6" fill="#1a1a1a"/>
<circle cx="578.0" cy="171.0" r="0.6" fill="#1a1a1a"/>
<circle cx="611.8" cy="167.1" r="0.6" fill="#1a1a1a"/>
<circle cx="613.1" cy="178.7" r="0.6" fill="#1a1a1a"/>
<circle cx="582.5" cy="176.2" r="0.6" fill="#1a1a1a"/>
<circle cx="584.3" cy="173.0" r="0.6" fill="#1a1a1a"/>
<circle cx="616.6" cy="168.1" r="0.6" fill="#1a1a1a"/>
<circle cx="607.6" cy="172.7" r="0.6" fill="#1a1a1a"/>
<circle cx="596.8" cy="169.8" r="0.6" fill="#1a1a1a"/>
<circle cx="600.6" cy="168.6" r="0.6" fill="#1a1a1a"/>
<circle cx="587.5" cy="179.6" r="0.6" fill="#1a1a1a"/>
<circle cx="615.7" cy="175.0" r="0.6" fill="#1a1a1a"/>
<circle cx="583.2" cy="171.6" r="0.6" fill="#1a1a1a"/>
<circle cx="588.3" cy="171.1" r="0.6" fill="#1a1a1a"/>
<circle cx="582.6" cy="169.8" r="0.6" fill="#1a1a1a"/>
<circle cx="580.9" cy="169.3" r="0.6" fill="#1a1a1a"/>
<circle cx="593.9" cy="168.8" r="0.6" fill="#1a1a1a"/>
<circle cx="587.2" cy="172.8" r="0.6" fill="#1a1a1a"/>
<circle cx="590.4" cy="173.1" r="0.6" fill="#1a1a1a"/>
<circle cx="596.9" cy="173.2" r="0.6" fill="#1a1a1a"/>
<circle cx="614.2" cy="178.5" r="0.6" fill="#1a1a1a"/>
<circle cx="597.5" cy="172.2" r="0.6" fill="#1a1a1a"/>
<circle cx="617.4" cy="173.8" r="0.6" fill="#1a1a1a"/>
<circle cx="606.9" cy="176.2" r="0.6" fill="#1a1a1a"/>
<text x="10.8" y="196" font-size="14" text-anchor="middle" transform="rotate(-90 10.8 196)" style="fill:#111" textLength="102" lengthAdjust="spacingAndGlyphs">CLR Abundance</text>
<polygon points="27.5,310.9 29.8,310.5 32.1,310.1 34.4,309.6 36.7,309.0 39.0,308.4 41.2,307.8 43.5,307.1 45.8,306.5 48.1,305.8 50.4,305.1 52.7,304.4 55.0,303.6 57.3,302.9 59.6,302.2 61.9,301.5 64.2,300.7 66.4,300.0 68.7,299.3 71.0,298.5 73.3,297.8 75.6,297.0 77.9,296.3 80.2,295.6 82.5,294.8 84.8,294.1 87.1,293.3 89.4,292.6 91.6,291.8 93.9,291.1 96.2,290.4 98.5,289.6 100.8,288.9 103.1,288.1 105.4,287.4 107.7,286.6 110.0,285.9 112.3,285.1 114.5,284.4 116.8,283.6 119.1,282.9 119.1,303.4 116.8,303.6 114.5,303.9 112.3,304.1 110.0,304.3 107.7,304.5 105.4,304.7 103.1,304.9 100.8,305.1 98.5,305.4 96.2,305.6 93.9,305.8 91.6,306.0 89.4,306.2 87.1,306.4 84.8,306.7 82.5,306.9 80.2,307.1 77.9,307.3 75.6,307.5 73.3,307.8 71.0,308.0 68.7,308.2 66.4,308.4 64.2,308.7 61.9,308.9 59.6,309.1 57.3,309.4 55.0,309.6 52.7,309.8 50.4,310.1 48.1,310.3 45.8,310.6 43.5,310.9 41.2,311.2 39.0,311.5 36.7,311.9 34.4,312.3 32.1,312.8 29.8,313.3 27.5,313.9" fill="#d6d6d6"/>
<line x1="29" y1="316.5" x2="125.5" y2="316.5" stroke="#808080" stroke-width="1" stroke-dasharray="1,1"/>
<line x1="27.5" y1="312.4" x2="119.1" y2="293.2" stroke="#6c6cf0" stroke-width="1"/>
<line x1="27.5" y1="267.5" x2="125.5" y2="267.5" stroke="#8e8e8e" stroke-width="1"/>
<line x1="125.5" y1="267.5" x2="125.5" y2="332.5" stroke="#8e8e8e" stroke-width="1"/>
<line x1="27.5" y1="267.5" x2="27.5" y2="332.5" stroke="#8e8e8e" stroke-width="1"/>
<line x1="27.5" y1="332.5" x2="125.5" y2="332.5" stroke="#8e8e8e" stroke-width="1"/>
<line x1="25.3" y1="267.4" x2="27.5" y2="267.4" stroke="#8e8e8e" stroke-width="1"/>
<text x="24.0" y="270.5" font-size="8.7" text-anchor="end"  >15</text>
<line x1="25.3" y1="283.7" x2="27.5" y2="283.7" stroke="#8e8e8e" stroke-width="1"/>
<text x="24.0" y="286.8" font-size="8.7" text-anchor="end"  >10</text>
<line x1="25.3" y1="300.0" x2="27.5" y2="300.0" stroke="#8e8e8e" stroke-width="1"/>
<text x="24.0" y="303.1" font-size="8.7" text-anchor="end"  >5</text>
<line x1="25.3" y1="316.3" x2="27.5" y2="316.3" stroke="#8e8e8e" stroke-width="1"/>
<text x="24.0" y="319.4" font-size="8.7" text-anchor="end"  >0</text>
<line x1="25.3" y1="332.6" x2="27.5" y2="332.6" stroke="#8e8e8e" stroke-width="1"/>
<text x="24.0" y="335.7" font-size="8.7" text-anchor="end"  >-5</text>
<line x1="27.5" y1="332.5" x2="27.5" y2="334.7" stroke="#8e8e8e" stroke-width="1"/>
<text x="27.5" y="343.5" font-size="8.7" text-anchor="middle"  >0.0</text>
<line x1="52.0" y1="332.5" x2="52.0" y2="334.7" stroke="#8e8e8e" stroke-width="1"/>
<text x="52.0" y="343.5" font-size="8.7" text-anchor="middle"  >0.5</text>
<line x1="76.5" y1="332.5" x2="76.5" y2="334.7" stroke="#8e8e8e" stroke-width="1"/>
<text x="76.5" y="343.5" font-size="8.7" text-anchor="middle"  >1.0</text>
<line x1="101.0" y1="332.5" x2="101.0" y2="334.7" stroke="#8e8e8e" stroke-width="1"/>
<text x="101.0" y="343.5" font-size="8.7" text-anchor="middle"  >1.5</text>
<line x1="125.5" y1="332.5" x2="125.5" y2="334.7" stroke="#8e8e8e" stroke-width="1"/>
<text x="125.5" y="343.5" font-size="8.7" text-anchor="middle"  >2.0</text>
<text x="74.0" y="354.8" font-size="8.4" text-anchor="middle"  textLength="61.8" lengthAdjust="spacingAndGlyphs">Infection intensity</text>
<text x="37.7" y="365.9" font-size="8.2" text-anchor="start">[log<tspan font-size="6.8" dy="2.0">10</tspan><tspan dy="-2.0">(egg count+1)]</tspan></text>
<text x="18.6" y="255.9" font-size="15" text-anchor="start"  style="fill:#000">f</text>
<circle cx="27.4" cy="287.6" r="0.8" fill="#1a1a1a"/>
<circle cx="27.2" cy="291.4" r="0.8" fill="#1a1a1a"/>
<circle cx="27.6" cy="294.0" r="0.8" fill="#1a1a1a"/>
<circle cx="27.7" cy="295.0" r="0.8" fill="#1a1a1a"/>
<circle cx="27.5" cy="296.0" r="0.8" fill="#1a1a1a"/>
<circle cx="27.4" cy="297.0" r="0.8" fill="#1a1a1a"/>
<circle cx="27.7" cy="298.0" r="0.8" fill="#1a1a1a"/>
<circle cx="27.9" cy="299.0" r="0.8" fill="#1a1a1a"/>
<circle cx="27.4" cy="300.0" r="0.8" fill="#1a1a1a"/>
<circle cx="27.2" cy="301.0" r="0.8" fill="#1a1a1a"/>
<circle cx="27.5" cy="302.0" r="0.8" fill="#1a1a1a"/>
<circle cx="27.5" cy="302.8" r="0.8" fill="#1a1a1a"/>
<circle cx="27.7" cy="305.1" r="0.8" fill="#1a1a1a"/>
<circle cx="27.4" cy="307.6" r="0.8" fill="#1a1a1a"/>
<circle cx="27.8" cy="310.3" r="0.8" fill="#1a1a1a"/>
<circle cx="27.8" cy="311.5" r="0.8" fill="#1a1a1a"/>
<circle cx="27.6" cy="312.7" r="0.8" fill="#1a1a1a"/>
<circle cx="27.4" cy="314.0" r="0.8" fill="#1a1a1a"/>
<circle cx="28.0" cy="315.2" r="0.8" fill="#1a1a1a"/>
<circle cx="27.4" cy="316.2" r="0.8" fill="#1a1a1a"/>
<circle cx="27.9" cy="317.3" r="0.8" fill="#1a1a1a"/>
<circle cx="27.4" cy="318.3" r="0.8" fill="#1a1a1a"/>
<circle cx="27.4" cy="319.5" r="0.8" fill="#1a1a1a"/>
<circle cx="27.8" cy="321.0" r="0.8" fill="#1a1a1a"/>
<circle cx="27.4" cy="322.5" r="0.8" fill="#1a1a1a"/>
<circle cx="28.0" cy="324.5" r="0.8" fill="#1a1a1a"/>
<circle cx="62.0" cy="294.1" r="0.75" fill="#1a1a1a"/>
<circle cx="65.6" cy="290.5" r="0.75" fill="#1a1a1a"/>
<circle cx="66.8" cy="296.1" r="0.75" fill="#1a1a1a"/>
<circle cx="63.4" cy="299.5" r="0.75" fill="#1a1a1a"/>
<circle cx="68.1" cy="300.5" r="0.75" fill="#1a1a1a"/>
<circle cx="77.8" cy="297.8" r="0.75" fill="#1a1a1a"/>
<circle cx="78.3" cy="302.0" r="0.75" fill="#1a1a1a"/>
<circle cx="88.1" cy="300.2" r="0.75" fill="#1a1a1a"/>
<circle cx="97.9" cy="312.5" r="0.75" fill="#1a1a1a"/>
<circle cx="101.6" cy="318.6" r="0.75" fill="#1a1a1a"/>
<circle cx="119.4" cy="287.5" r="0.75" fill="#1a1a1a"/>
<circle cx="64.4" cy="316.1" r="0.75" fill="#1a1a1a"/>
<circle cx="33.5" cy="295.4" r="0.75" fill="#1a1a1a"/>
<circle cx="38.4" cy="297.3" r="0.75" fill="#1a1a1a"/>
<circle cx="33.5" cy="323.5" r="0.75" fill="#1a1a1a"/>
<circle cx="50.9" cy="292.9" r="0.75" fill="#1a1a1a"/>
<circle cx="54.3" cy="296.1" r="0.75" fill="#1a1a1a"/>
<circle cx="33.5" cy="316.7" r="0.75" fill="#1a1a1a"/>
<polygon points="164.5,303.1 166.8,303.7 169.1,304.3 171.4,304.9 173.7,305.4 176.0,306.0 178.2,306.4 180.5,306.8 182.8,307.1 185.1,307.3 187.4,307.5 189.7,307.7 192.0,307.9 194.3,308.1 196.6,308.3 198.9,308.4 201.2,308.6 203.4,308.8 205.7,309.0 208.0,309.1 210.3,309.3 212.6,309.5 214.9,309.7 217.2,309.8 219.5,310.0 221.8,310.2 224.1,310.3 226.4,310.5 228.6,310.7 230.9,310.8 233.2,311.0 235.5,311.2 237.8,311.4 240.1,311.5 242.4,311.7 244.7,311.9 247.0,312.0 249.3,312.2 251.5,312.4 253.8,312.5 256.1,312.7 256.1,327.4 253.8,326.8 251.5,326.2 249.3,325.6 247.0,325.0 244.7,324.4 242.4,323.8 240.1,323.2 237.8,322.5 235.5,321.9 233.2,321.3 230.9,320.7 228.6,320.1 226.4,319.5 224.1,318.9 221.8,318.3 219.5,317.7 217.2,317.1 214.9,316.5 212.6,315.9 210.3,315.3 208.0,314.7 205.7,314.1 203.4,313.5 201.2,312.9 198.9,312.3 196.6,311.7 194.3,311.1 192.0,310.5 189.7,309.9 187.4,309.3 185.1,308.8 182.8,308.2 180.5,307.7 178.2,307.3 176.0,307.0 173.7,306.8 171.4,306.6 169.1,306.4 166.8,306.2 164.5,306.0" fill="#d6d6d6"/>
<line x1="166" y1="316.5" x2="262.5" y2="316.5" stroke="#808080" stroke-width="1" stroke-dasharray="1,1"/>
<line x1="164.5" y1="304.6" x2="256.1" y2="320.0" stroke="#6c6cf0" stroke-width="1"/>
<line x1="164.5" y1="267.5" x2="262.5" y2="267.5" stroke="#8e8e8e" stroke-width="1"/>
<line x1="262.5" y1="267.5" x2="262.5" y2="332.5" stroke="#8e8e8e" stroke-width="1"/>
<line x1="164.5" y1="267.5" x2="164.5" y2="332.5" stroke="#8e8e8e" stroke-width="1"/>
<line x1="164.5" y1="332.5" x2="262.5" y2="332.5" stroke="#8e8e8e" stroke-width="1"/>
<line x1="162.3" y1="267.4" x2="164.5" y2="267.4" stroke="#8e8e8e" stroke-width="1"/>
<text x="161.0" y="270.5" font-size="8.7" text-anchor="end"  >15</text>
<line x1="162.3" y1="283.7" x2="164.5" y2="283.7" stroke="#8e8e8e" stroke-width="1"/>
<text x="161.0" y="286.8" font-size="8.7" text-anchor="end"  >10</text>
<line x1="162.3" y1="300.0" x2="164.5" y2="300.0" stroke="#8e8e8e" stroke-width="1"/>
<text x="161.0" y="303.1" font-size="8.7" text-anchor="end"  >5</text>
<line x1="162.3" y1="316.3" x2="164.5" y2="316.3" stroke="#8e8e8e" stroke-width="1"/>
<text x="161.0" y="319.4" font-size="8.7" text-anchor="end"  >0</text>
<line x1="162.3" y1="332.6" x2="164.5" y2="332.6" stroke="#8e8e8e" stroke-width="1"/>
<text x="161.0" y="335.7" font-size="8.7" text-anchor="end"  >-5</text>
<line x1="164.5" y1="332.5" x2="164.5" y2="334.7" stroke="#8e8e8e" stroke-width="1"/>
<text x="164.5" y="343.5" font-size="8.7" text-anchor="middle"  >0.0</text>
<line x1="189.0" y1="332.5" x2="189.0" y2="334.7" stroke="#8e8e8e" stroke-width="1"/>
<text x="189.0" y="343.5" font-size="8.7" text-anchor="middle"  >0.5</text>
<line x1="213.5" y1="332.5" x2="213.5" y2="334.7" stroke="#8e8e8e" stroke-width="1"/>
<text x="213.5" y="343.5" font-size="8.7" text-anchor="middle"  >1.0</text>
<line x1="238.0" y1="332.5" x2="238.0" y2="334.7" stroke="#8e8e8e" stroke-width="1"/>
<text x="238.0" y="343.5" font-size="8.7" text-anchor="middle"  >1.5</text>
<line x1="262.5" y1="332.5" x2="262.5" y2="334.7" stroke="#8e8e8e" stroke-width="1"/>
<text x="262.5" y="343.5" font-size="8.7" text-anchor="middle"  >2.0</text>
<text x="211.0" y="354.8" font-size="8.4" text-anchor="middle"  textLength="61.8" lengthAdjust="spacingAndGlyphs">Infection intensity</text>
<text x="174.7" y="365.9" font-size="8.2" text-anchor="start">[log<tspan font-size="6.8" dy="2.0">10</tspan><tspan dy="-2.0">(egg count+1)]</tspan></text>
<text x="153.3" y="255.9" font-size="15" text-anchor="start"  style="fill:#000">g</text>
<circle cx="164.6" cy="280.4" r="0.8" fill="#1a1a1a"/>
<circle cx="164.3" cy="283.2" r="0.8" fill="#1a1a1a"/>
<circle cx="164.4" cy="284.1" r="0.8" fill="#1a1a1a"/>
<circle cx="164.5" cy="285.0" r="0.8" fill="#1a1a1a"/>
<circle cx="164.7" cy="285.9" r="0.8" fill="#1a1a1a"/>
<circle cx="165.0" cy="286.8" r="0.8" fill="#1a1a1a"/>
<circle cx="164.3" cy="287.7" r="0.8" fill="#1a1a1a"/>
<circle cx="164.5" cy="288.6" r="0.8" fill="#1a1a1a"/>
<circle cx="164.4" cy="289.5" r="0.8" fill="#1a1a1a"/>
<circle cx="165.0" cy="290.4" r="0.8" fill="#1a1a1a"/>
<circle cx="164.3" cy="291.3" r="0.8" fill="#1a1a1a"/>
<circle cx="164.2" cy="292.2" r="0.8" fill="#1a1a1a"/>
<circle cx="164.2" cy="296.8" r="0.8" fill="#1a1a1a"/>
<circle cx="164.5" cy="297.8" r="0.8" fill="#1a1a1a"/>
<circle cx="164.9" cy="298.7" r="0.8" fill="#1a1a1a"/>
<circle cx="164.9" cy="299.7" r="0.8" fill="#1a1a1a"/>
<circle cx="164.8" cy="300.6" r="0.8" fill="#1a1a1a"/>
<circle cx="165.0" cy="301.6" r="0.8" fill="#1a1a1a"/>
<circle cx="164.9" cy="302.5" r="0.8" fill="#1a1a1a"/>
<circle cx="164.5" cy="303.4" r="0.8" fill="#1a1a1a"/>
<circle cx="164.3" cy="304.4" r="0.8" fill="#1a1a1a"/>
<circle cx="164.9" cy="305.4" r="0.8" fill="#1a1a1a"/>
<circle cx="164.8" cy="306.3" r="0.8" fill="#1a1a1a"/>
<circle cx="164.2" cy="307.2" r="0.8" fill="#1a1a1a"/>
<circle cx="164.7" cy="308.2" r="0.8" fill="#1a1a1a"/>
<circle cx="164.5" cy="309.2" r="0.8" fill="#1a1a1a"/>
<circle cx="164.5" cy="310.1" r="0.8" fill="#1a1a1a"/>
<circle cx="164.5" cy="311.1" r="0.8" fill="#1a1a1a"/>
<circle cx="164.3" cy="312.0" r="0.8" fill="#1a1a1a"/>
<circle cx="164.2" cy="312.9" r="0.8" fill="#1a1a1a"/>
<circle cx="164.4" cy="313.9" r="0.8" fill="#1a1a1a"/>
<circle cx="164.5" cy="314.9" r="0.8" fill="#1a1a1a"/>
<circle cx="165.0" cy="315.8" r="0.8" fill="#1a1a1a"/>
<circle cx="164.3" cy="316.8" r="0.8" fill="#1a1a1a"/>
<circle cx="165.0" cy="317.7" r="0.8" fill="#1a1a1a"/>
<circle cx="170.7" cy="298.7" r="0.75" fill="#1a1a1a"/>
<circle cx="170.7" cy="303.9" r="0.75" fill="#1a1a1a"/>
<circle cx="170.7" cy="315.4" r="0.75" fill="#1a1a1a"/>
<circle cx="175.4" cy="313.3" r="0.75" fill="#1a1a1a"/>
<circle cx="188.0" cy="319.1" r="0.75" fill="#1a1a1a"/>
<circle cx="191.1" cy="312.8" r="0.75" fill="#1a1a1a"/>
<circle cx="198.9" cy="318.3" r="0.75" fill="#1a1a1a"/>
<circle cx="200.4" cy="311.1" r="0.75" fill="#1a1a1a"/>
<circle cx="202.0" cy="317.6" r="0.75" fill="#1a1a1a"/>
<circle cx="204.1" cy="318.3" r="0.75" fill="#1a1a1a"/>
<circle cx="205.0" cy="318.6" r="0.75" fill="#1a1a1a"/>
<circle cx="206.0" cy="318.6" r="0.75" fill="#1a1a1a"/>
<circle cx="215.0" cy="304.6" r="0.75" fill="#1a1a1a"/>
<circle cx="215.0" cy="312.6" r="0.75" fill="#1a1a1a"/>
<circle cx="225.0" cy="311.7" r="0.75" fill="#1a1a1a"/>
<circle cx="234.6" cy="312.6" r="0.75" fill="#1a1a1a"/>
<circle cx="238.5" cy="306.3" r="0.75" fill="#1a1a1a"/>
<circle cx="256.3" cy="319.8" r="0.75" fill="#1a1a1a"/>
<polygon points="304.5,319.0 306.8,318.8 309.1,318.5 311.4,318.3 313.7,318.0 316.0,317.7 318.2,317.4 320.5,317.0 322.8,316.7 325.1,316.3 327.4,315.9 329.7,315.6 332.0,315.2 334.3,314.8 336.6,314.3 338.9,313.9 341.2,313.5 343.4,313.1 345.7,312.7 348.0,312.3 350.3,311.8 352.6,311.4 354.9,311.0 357.2,310.6 359.5,310.1 361.8,309.7 364.1,309.3 366.4,308.9 368.6,308.4 370.9,308.0 373.2,307.6 375.5,307.1 377.8,306.7 380.1,306.3 382.4,305.8 384.7,305.4 387.0,305.0 389.3,304.6 391.5,304.1 393.8,303.7 396.1,303.3 396.1,313.7 393.8,313.8 391.5,314.0 389.3,314.1 387.0,314.3 384.7,314.4 382.4,314.6 380.1,314.7 377.8,314.9 375.5,315.0 373.2,315.2 370.9,315.4 368.6,315.5 366.4,315.7 364.1,315.8 361.8,316.0 359.5,316.1 357.2,316.3 354.9,316.4 352.6,316.6 350.3,316.7 348.0,316.9 345.7,317.1 343.4,317.2 341.2,317.4 338.9,317.6 336.6,317.7 334.3,317.9 332.0,318.1 329.7,318.3 327.4,318.5 325.1,318.7 322.8,318.9 320.5,319.1 318.2,319.4 316.0,319.6 313.7,319.9 311.4,320.2 309.1,320.5 306.8,320.9 304.5,321.3" fill="#d6d6d6"/>
<line x1="306" y1="316.5" x2="402.5" y2="316.5" stroke="#808080" stroke-width="1" stroke-dasharray="1,1"/>
<line x1="304.5" y1="320.1" x2="396.1" y2="308.5" stroke="#6c6cf0" stroke-width="1"/>
<line x1="304.5" y1="267.5" x2="402.5" y2="267.5" stroke="#8e8e8e" stroke-width="1"/>
<line x1="402.5" y1="267.5" x2="402.5" y2="332.5" stroke="#8e8e8e" stroke-width="1"/>
<line x1="304.5" y1="267.5" x2="304.5" y2="332.5" stroke="#8e8e8e" stroke-width="1"/>
<line x1="304.5" y1="332.5" x2="402.5" y2="332.5" stroke="#8e8e8e" stroke-width="1"/>
<line x1="302.3" y1="267.4" x2="304.5" y2="267.4" stroke="#8e8e8e" stroke-width="1"/>
<text x="301.0" y="270.5" font-size="8.7" text-anchor="end"  >15</text>
<line x1="302.3" y1="283.7" x2="304.5" y2="283.7" stroke="#8e8e8e" stroke-width="1"/>
<text x="301.0" y="286.8" font-size="8.7" text-anchor="end"  >10</text>
<line x1="302.3" y1="300.0" x2="304.5" y2="300.0" stroke="#8e8e8e" stroke-width="1"/>
<text x="301.0" y="303.1" font-size="8.7" text-anchor="end"  >5</text>
<line x1="302.3" y1="316.3" x2="304.5" y2="316.3" stroke="#8e8e8e" stroke-width="1"/>
<text x="301.0" y="319.4" font-size="8.7" text-anchor="end"  >0</text>
<line x1="302.3" y1="332.6" x2="304.5" y2="332.6" stroke="#8e8e8e" stroke-width="1"/>
<text x="301.0" y="335.7" font-size="8.7" text-anchor="end"  >-5</text>
<line x1="304.5" y1="332.5" x2="304.5" y2="334.7" stroke="#8e8e8e" stroke-width="1"/>
<text x="304.5" y="343.5" font-size="8.7" text-anchor="middle"  >0.0</text>
<line x1="329.0" y1="332.5" x2="329.0" y2="334.7" stroke="#8e8e8e" stroke-width="1"/>
<text x="329.0" y="343.5" font-size="8.7" text-anchor="middle"  >0.5</text>
<line x1="353.5" y1="332.5" x2="353.5" y2="334.7" stroke="#8e8e8e" stroke-width="1"/>
<text x="353.5" y="343.5" font-size="8.7" text-anchor="middle"  >1.0</text>
<line x1="378.0" y1="332.5" x2="378.0" y2="334.7" stroke="#8e8e8e" stroke-width="1"/>
<text x="378.0" y="343.5" font-size="8.7" text-anchor="middle"  >1.5</text>
<line x1="402.5" y1="332.5" x2="402.5" y2="334.7" stroke="#8e8e8e" stroke-width="1"/>
<text x="402.5" y="343.5" font-size="8.7" text-anchor="middle"  >2.0</text>
<text x="351.0" y="354.8" font-size="8.4" text-anchor="middle"  textLength="61.8" lengthAdjust="spacingAndGlyphs">Infection intensity</text>
<text x="314.7" y="365.9" font-size="8.2" text-anchor="start">[log<tspan font-size="6.8" dy="2.0">10</tspan><tspan dy="-2.0">(egg count+1)]</tspan></text>
<text x="292.2" y="255.9" font-size="15" text-anchor="start"  style="fill:#000">h</text>
<circle cx="304.4" cy="294.0" r="0.8" fill="#1a1a1a"/>
<circle cx="304.5" cy="295.3" r="0.8" fill="#1a1a1a"/>
<circle cx="304.9" cy="296.6" r="0.8" fill="#1a1a1a"/>
<circle cx="304.9" cy="299.6" r="0.8" fill="#1a1a1a"/>
<circle cx="304.5" cy="314.6" r="0.8" fill="#1a1a1a"/>
<circle cx="304.2" cy="315.4" r="0.8" fill="#1a1a1a"/>
<circle cx="304.6" cy="316.2" r="0.8" fill="#1a1a1a"/>
<circle cx="304.5" cy="317.0" r="0.8" fill="#1a1a1a"/>
<circle cx="304.9" cy="317.8" r="0.8" fill="#1a1a1a"/>
<circle cx="304.4" cy="318.6" r="0.8" fill="#1a1a1a"/>
<circle cx="304.5" cy="319.4" r="0.8" fill="#1a1a1a"/>
<circle cx="304.9" cy="320.2" r="0.8" fill="#1a1a1a"/>
<circle cx="304.2" cy="321.0" r="0.8" fill="#1a1a1a"/>
<circle cx="304.5" cy="321.8" r="0.8" fill="#1a1a1a"/>
<circle cx="304.8" cy="322.6" r="0.8" fill="#1a1a1a"/>
<circle cx="304.8" cy="323.4" r="0.8" fill="#1a1a1a"/>
<circle cx="310.7" cy="322.0" r="0.75" fill="#1a1a1a"/>
<circle cx="315.4" cy="322.0" r="0.75" fill="#1a1a1a"/>
<circle cx="328.0" cy="297.0" r="0.75" fill="#1a1a1a"/>
<circle cx="331.1" cy="317.6" r="0.75" fill="#1a1a1a"/>
<circle cx="338.9" cy="300.2" r="0.75" fill="#1a1a1a"/>
<circle cx="342.6" cy="299.6" r="0.75" fill="#1a1a1a"/>
<circle cx="340.4" cy="322.6" r="0.75" fill="#1a1a1a"/>
<circle cx="342.0" cy="320.4" r="0.75" fill="#1a1a1a"/>
<circle cx="344.1" cy="316.1" r="0.75" fill="#1a1a1a"/>
<circle cx="345.2" cy="321.3" r="0.75" fill="#1a1a1a"/>
<circle cx="355.0" cy="312.6" r="0.75" fill="#1a1a1a"/>
<circle cx="355.0" cy="320.9" r="0.75" fill="#1a1a1a"/>
<circle cx="365.0" cy="317.6" r="0.75" fill="#1a1a1a"/>
<circle cx="374.6" cy="321.5" r="0.75" fill="#1a1a1a"/>
<circle cx="378.5" cy="322.6" r="0.75" fill="#1a1a1a"/>
<circle cx="396.3" cy="293.0" r="0.75" fill="#1a1a1a"/>
<polygon points="440.5,320.9 442.8,320.6 445.0,320.3 447.3,320.0 449.6,319.7 451.9,319.4 454.1,319.1 456.4,318.7 458.7,318.4 460.9,318.0 463.2,317.6 465.5,317.3 467.8,316.9 470.0,316.5 472.3,316.1 474.6,315.7 476.9,315.3 479.1,314.9 481.4,314.5 483.7,314.1 485.9,313.7 488.2,313.3 490.5,312.9 492.8,312.5 495.0,312.0 497.3,311.6 499.6,311.2 501.8,310.8 504.1,310.4 506.4,309.9 508.7,309.5 510.9,309.1 513.2,308.7 515.5,308.3 517.7,307.8 520.0,307.4 522.3,307.0 524.6,306.6 526.8,306.2 529.1,305.7 531.4,305.3 531.4,311.3 529.1,311.6 526.8,311.8 524.6,312.1 522.3,312.3 520.0,312.6 517.7,312.9 515.5,313.1 513.2,313.4 510.9,313.6 508.7,313.9 506.4,314.2 504.1,314.4 501.8,314.7 499.6,314.9 497.3,315.2 495.0,315.5 492.8,315.7 490.5,316.0 488.2,316.3 485.9,316.5 483.7,316.8 481.4,317.1 479.1,317.3 476.9,317.6 474.6,317.9 472.3,318.2 470.0,318.5 467.8,318.8 465.5,319.1 463.2,319.4 460.9,319.7 458.7,320.0 456.4,320.3 454.1,320.7 451.9,321.0 449.6,321.4 447.3,321.7 445.0,322.1 442.8,322.5 440.5,322.9" fill="#d6d6d6"/>
<line x1="442" y1="316.5" x2="537.7" y2="316.5" stroke="#808080" stroke-width="1" stroke-dasharray="1,1"/>
<line x1="440.5" y1="321.9" x2="531.4" y2="308.3" stroke="#6c6cf0" stroke-width="1"/>
<line x1="440.5" y1="267.5" x2="537.7" y2="267.5" stroke="#8e8e8e" stroke-width="1"/>
<line x1="537.7" y1="267.5" x2="537.7" y2="332.5" stroke="#8e8e8e" stroke-width="1"/>
<line x1="440.5" y1="267.5" x2="440.5" y2="332.5" stroke="#8e8e8e" stroke-width="1"/>
<line x1="440.5" y1="332.5" x2="537.7" y2="332.5" stroke="#8e8e8e" stroke-width="1"/>
<line x1="438.3" y1="267.4" x2="440.5" y2="267.4" stroke="#8e8e8e" stroke-width="1"/>
<text x="437.0" y="270.5" font-size="8.7" text-anchor="end"  >15</text>
<line x1="438.3" y1="283.7" x2="440.5" y2="283.7" stroke="#8e8e8e" stroke-width="1"/>
<text x="437.0" y="286.8" font-size="8.7" text-anchor="end"  >10</text>
<line x1="438.3" y1="300.0" x2="440.5" y2="300.0" stroke="#8e8e8e" stroke-width="1"/>
<text x="437.0" y="303.1" font-size="8.7" text-anchor="end"  >5</text>
<line x1="438.3" y1="316.3" x2="440.5" y2="316.3" stroke="#8e8e8e" stroke-width="1"/>
<text x="437.0" y="319.4" font-size="8.7" text-anchor="end"  >0</text>
<line x1="438.3" y1="332.6" x2="440.5" y2="332.6" stroke="#8e8e8e" stroke-width="1"/>
<text x="437.0" y="335.7" font-size="8.7" text-anchor="end"  >-5</text>
<line x1="440.5" y1="332.5" x2="440.5" y2="334.7" stroke="#8e8e8e" stroke-width="1"/>
<text x="440.5" y="343.5" font-size="8.7" text-anchor="middle"  >0.0</text>
<line x1="464.8" y1="332.5" x2="464.8" y2="334.7" stroke="#8e8e8e" stroke-width="1"/>
<text x="464.8" y="343.5" font-size="8.7" text-anchor="middle"  >0.5</text>
<line x1="489.1" y1="332.5" x2="489.1" y2="334.7" stroke="#8e8e8e" stroke-width="1"/>
<text x="489.1" y="343.5" font-size="8.7" text-anchor="middle"  >1.0</text>
<line x1="513.4" y1="332.5" x2="513.4" y2="334.7" stroke="#8e8e8e" stroke-width="1"/>
<text x="513.4" y="343.5" font-size="8.7" text-anchor="middle"  >1.5</text>
<line x1="537.7" y1="332.5" x2="537.7" y2="334.7" stroke="#8e8e8e" stroke-width="1"/>
<text x="537.7" y="343.5" font-size="8.7" text-anchor="middle"  >2.0</text>
<text x="487.0" y="354.8" font-size="8.4" text-anchor="middle"  textLength="61.8" lengthAdjust="spacingAndGlyphs">Infection intensity</text>
<text x="450.7" y="365.9" font-size="8.2" text-anchor="start">[log<tspan font-size="6.8" dy="2.0">10</tspan><tspan dy="-2.0">(egg count+1)]</tspan></text>
<text x="430.2" y="255.9" font-size="15" text-anchor="start"  style="fill:#000">i</text>
<circle cx="440.2" cy="305.7" r="0.8" fill="#1a1a1a"/>
<circle cx="440.2" cy="306.5" r="0.8" fill="#1a1a1a"/>
<circle cx="440.3" cy="307.4" r="0.8" fill="#1a1a1a"/>
<circle cx="440.9" cy="317.6" r="0.8" fill="#1a1a1a"/>
<circle cx="440.4" cy="318.5" r="0.8" fill="#1a1a1a"/>
<circle cx="440.8" cy="319.1" r="0.8" fill="#1a1a1a"/>
<circle cx="440.9" cy="320.5" r="0.8" fill="#1a1a1a"/>
<circle cx="440.5" cy="322.0" r="0.8" fill="#1a1a1a"/>
<circle cx="440.4" cy="323.0" r="0.8" fill="#1a1a1a"/>
<circle cx="441.0" cy="323.5" r="0.8" fill="#1a1a1a"/>
<circle cx="446.1" cy="323.0" r="0.75" fill="#1a1a1a"/>
<circle cx="450.9" cy="323.0" r="0.75" fill="#1a1a1a"/>
<circle cx="463.5" cy="323.0" r="0.75" fill="#1a1a1a"/>
<circle cx="466.3" cy="307.4" r="0.75" fill="#1a1a1a"/>
<circle cx="474.8" cy="323.0" r="0.75" fill="#1a1a1a"/>
<circle cx="476.1" cy="322.0" r="0.75" fill="#1a1a1a"/>
<circle cx="477.6" cy="321.5" r="0.75" fill="#1a1a1a"/>
<circle cx="479.1" cy="322.4" r="0.75" fill="#1a1a1a"/>
<circle cx="480.5" cy="322.6" r="0.75" fill="#1a1a1a"/>
<circle cx="490.7" cy="306.3" r="0.75" fill="#1a1a1a"/>
<circle cx="490.0" cy="322.0" r="0.75" fill="#1a1a1a"/>
<circle cx="500.0" cy="307.8" r="0.75" fill="#1a1a1a"/>
<circle cx="509.8" cy="306.3" r="0.75" fill="#1a1a1a"/>
<circle cx="513.9" cy="307.2" r="0.75" fill="#1a1a1a"/>
<circle cx="531.5" cy="307.4" r="0.75" fill="#1a1a1a"/>
<polygon points="580.5,319.1 582.8,318.8 585.1,318.5 587.4,318.2 589.7,317.9 592.0,317.6 594.3,317.2 596.6,316.9 598.9,316.5 601.2,316.2 603.5,315.8 605.8,315.4 608.1,315.1 610.4,314.7 612.7,314.3 615.0,313.9 617.3,313.5 619.6,313.1 621.9,312.7 624.2,312.3 626.5,311.9 628.8,311.5 631.1,311.0 633.4,310.6 635.7,310.2 638.0,309.8 640.3,309.4 642.6,309.0 644.9,308.6 647.2,308.1 649.5,307.7 651.8,307.3 654.1,306.9 656.4,306.5 658.7,306.0 661.0,305.6 663.3,305.2 665.6,304.8 667.9,304.4 670.2,303.9 672.5,303.5 672.5,309.4 670.2,309.7 667.9,309.9 665.6,310.2 663.3,310.4 661.0,310.7 658.7,311.0 656.4,311.2 654.1,311.5 651.8,311.7 649.5,312.0 647.2,312.3 644.9,312.5 642.6,312.8 640.3,313.1 638.0,313.3 635.7,313.6 633.4,313.9 631.1,314.1 628.8,314.4 626.5,314.7 624.2,314.9 621.9,315.2 619.6,315.5 617.3,315.8 615.0,316.1 612.7,316.4 610.4,316.6 608.1,316.9 605.8,317.2 603.5,317.5 601.2,317.9 598.9,318.2 596.6,318.5 594.3,318.9 592.0,319.2 589.7,319.6 587.4,319.9 585.1,320.3 582.8,320.7 580.5,321.1" fill="#d6d6d6"/>
<line x1="582" y1="315.5" x2="678.9" y2="315.5" stroke="#808080" stroke-width="1" stroke-dasharray="1,1"/>
<line x1="580.5" y1="320.1" x2="672.5" y2="306.5" stroke="#6c6cf0" stroke-width="1"/>
<line x1="580.5" y1="266.5" x2="678.9" y2="266.5" stroke="#8e8e8e" stroke-width="1"/>
<line x1="678.9" y1="266.5" x2="678.9" y2="331.5" stroke="#8e8e8e" stroke-width="1"/>
<line x1="580.5" y1="266.5" x2="580.5" y2="331.5" stroke="#8e8e8e" stroke-width="1"/>
<line x1="580.5" y1="331.5" x2="678.9" y2="331.5" stroke="#8e8e8e" stroke-width="1"/>
<line x1="578.3" y1="266.1" x2="580.5" y2="266.1" stroke="#8e8e8e" stroke-width="1"/>
<text x="577.0" y="269.2" font-size="8.7" text-anchor="end"  >15</text>
<line x1="578.3" y1="282.4" x2="580.5" y2="282.4" stroke="#8e8e8e" stroke-width="1"/>
<text x="577.0" y="285.5" font-size="8.7" text-anchor="end"  >10</text>
<line x1="578.3" y1="298.7" x2="580.5" y2="298.7" stroke="#8e8e8e" stroke-width="1"/>
<text x="577.0" y="301.8" font-size="8.7" text-anchor="end"  >5</text>
<line x1="578.3" y1="315.0" x2="580.5" y2="315.0" stroke="#8e8e8e" stroke-width="1"/>
<text x="577.0" y="318.1" font-size="8.7" text-anchor="end"  >0</text>
<line x1="578.3" y1="331.3" x2="580.5" y2="331.3" stroke="#8e8e8e" stroke-width="1"/>
<text x="577.0" y="334.4" font-size="8.7" text-anchor="end"  >-5</text>
<line x1="580.5" y1="331.5" x2="580.5" y2="333.7" stroke="#8e8e8e" stroke-width="1"/>
<text x="580.5" y="342.5" font-size="8.7" text-anchor="middle"  >0.0</text>
<line x1="605.1" y1="331.5" x2="605.1" y2="333.7" stroke="#8e8e8e" stroke-width="1"/>
<text x="605.1" y="342.5" font-size="8.7" text-anchor="middle"  >0.5</text>
<line x1="629.7" y1="331.5" x2="629.7" y2="333.7" stroke="#8e8e8e" stroke-width="1"/>
<text x="629.7" y="342.5" font-size="8.7" text-anchor="middle"  >1.0</text>
<line x1="654.3" y1="331.5" x2="654.3" y2="333.7" stroke="#8e8e8e" stroke-width="1"/>
<text x="654.3" y="342.5" font-size="8.7" text-anchor="middle"  >1.5</text>
<line x1="678.9" y1="331.5" x2="678.9" y2="333.7" stroke="#8e8e8e" stroke-width="1"/>
<text x="678.9" y="342.5" font-size="8.7" text-anchor="middle"  >2.0</text>
<text x="627.0" y="353.5" font-size="8.4" text-anchor="middle"  textLength="61.8" lengthAdjust="spacingAndGlyphs">Infection intensity</text>
<text x="590.7" y="364.6" font-size="8.2" text-anchor="start">[log<tspan font-size="6.8" dy="2.0">10</tspan><tspan dy="-2.0">(egg count+1)]</tspan></text>
<text x="569.8" y="255.9" font-size="15" text-anchor="start"  style="fill:#000">j</text>
<circle cx="580.7" cy="306.1" r="0.8" fill="#1a1a1a"/>
<circle cx="580.4" cy="307.0" r="0.8" fill="#1a1a1a"/>
<circle cx="580.8" cy="307.8" r="0.8" fill="#1a1a1a"/>
<circle cx="580.5" cy="314.8" r="0.8" fill="#1a1a1a"/>
<circle cx="580.4" cy="316.0" r="0.8" fill="#1a1a1a"/>
<circle cx="580.2" cy="317.0" r="0.8" fill="#1a1a1a"/>
<circle cx="580.8" cy="318.0" r="0.8" fill="#1a1a1a"/>
<circle cx="580.9" cy="319.1" r="0.8" fill="#1a1a1a"/>
<circle cx="580.7" cy="320.2" r="0.8" fill="#1a1a1a"/>
<circle cx="581.0" cy="321.3" r="0.8" fill="#1a1a1a"/>
<circle cx="586.5" cy="320.9" r="0.75" fill="#1a1a1a"/>
<circle cx="592.0" cy="320.9" r="0.75" fill="#1a1a1a"/>
<circle cx="604.1" cy="317.6" r="0.75" fill="#1a1a1a"/>
<circle cx="607.4" cy="306.1" r="0.75" fill="#1a1a1a"/>
<circle cx="614.8" cy="320.7" r="0.75" fill="#1a1a1a"/>
<circle cx="617.0" cy="318.5" r="0.75" fill="#1a1a1a"/>
<circle cx="618.7" cy="319.8" r="0.75" fill="#1a1a1a"/>
<circle cx="620.9" cy="320.7" r="0.75" fill="#1a1a1a"/>
<circle cx="622.0" cy="320.8" r="0.75" fill="#1a1a1a"/>
<circle cx="631.7" cy="306.3" r="0.75" fill="#1a1a1a"/>
<circle cx="631.1" cy="320.2" r="0.75" fill="#1a1a1a"/>
<circle cx="641.1" cy="306.7" r="0.75" fill="#1a1a1a"/>
<circle cx="651.3" cy="305.4" r="0.75" fill="#1a1a1a"/>
<circle cx="655.0" cy="306.3" r="0.75" fill="#1a1a1a"/>
<circle cx="672.6" cy="306.5" r="0.75" fill="#1a1a1a"/>
</svg>
</body></html>
